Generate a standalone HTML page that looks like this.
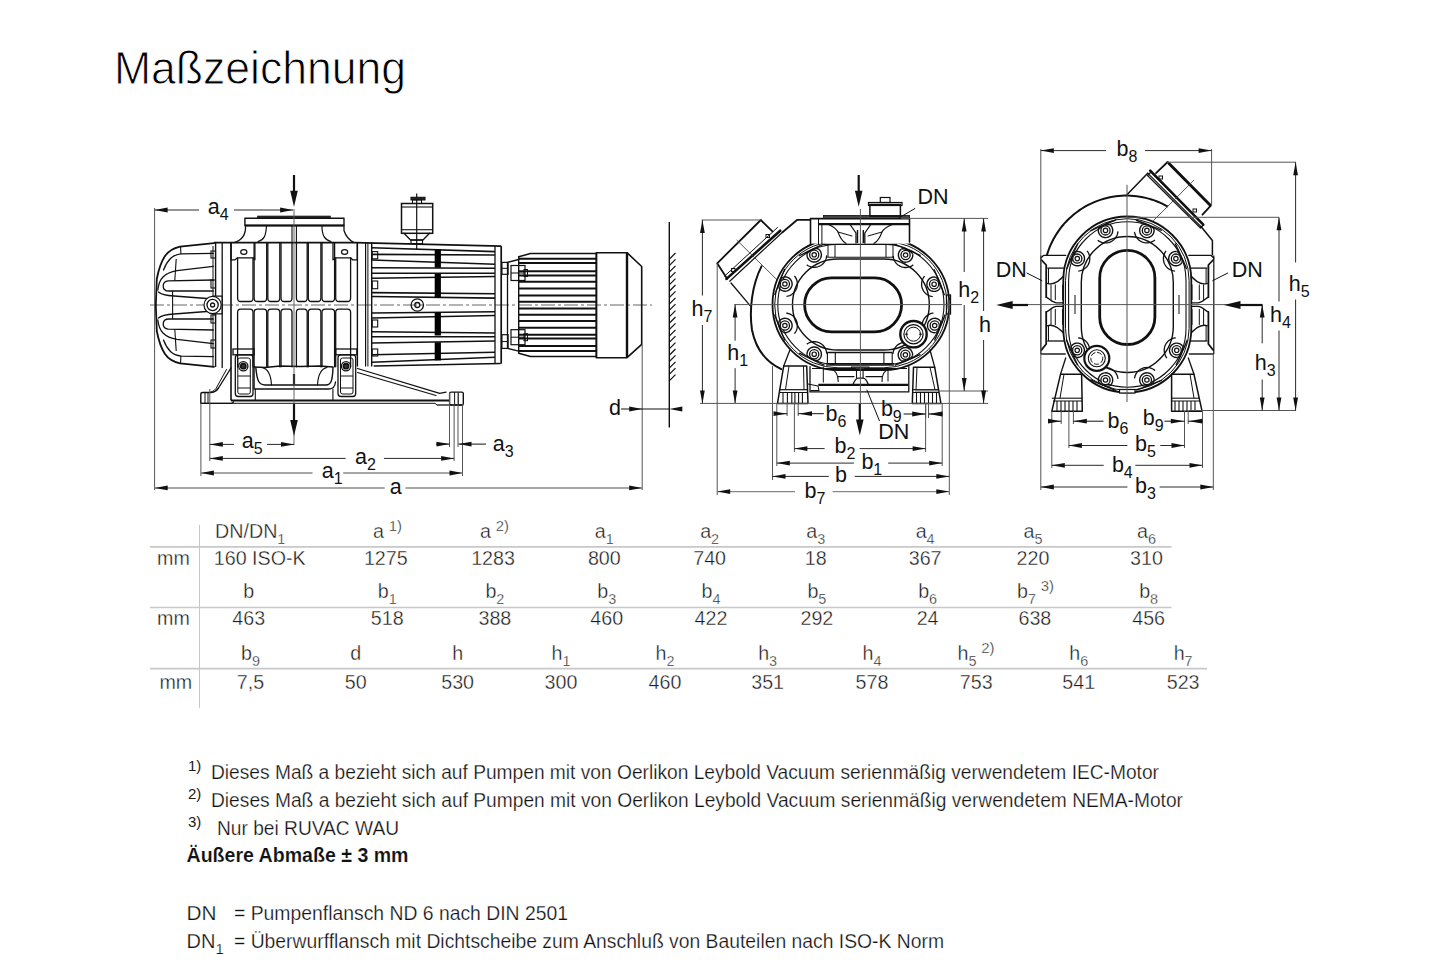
<!DOCTYPE html><html><head><meta charset="utf-8"><style>html,body{margin:0;padding:0;background:#fff;}svg{display:block;}</style></head><body>
<svg width="1445" height="964" viewBox="0 0 1445 964" font-family='"Liberation Sans", sans-serif'>
<rect width="1445" height="964" fill="#fff"/>
<text x="114" y="83.6" font-size="46" fill="#000" stroke="#fff" stroke-width="0.9" textLength="292" lengthAdjust="spacingAndGlyphs">Maßzeichnung</text>
<line x1="199.5" y1="525" x2="199.5" y2="708" stroke="#c8c8c8" stroke-width="1" />
<line x1="150" y1="546.9" x2="1171.5" y2="546.9" stroke="#c8c8c8" stroke-width="1.6" />
<line x1="150" y1="607.5" x2="1171.5" y2="607.5" stroke="#c8c8c8" stroke-width="1.6" />
<line x1="150" y1="668.6" x2="1207" y2="668.6" stroke="#c8c8c8" stroke-width="1.6" />
<g transform="translate(157,565) scale(0.96,1)"><text x="0" y="0" font-size="20.5" text-anchor="start" fill="#1a1a1a" stroke="#fff" stroke-width="0.35"><tspan>mm</tspan></text></g>
<g transform="translate(157,625) scale(0.96,1)"><text x="0" y="0" font-size="20.5" text-anchor="start" fill="#1a1a1a" stroke="#fff" stroke-width="0.35"><tspan>mm</tspan></text></g>
<g transform="translate(159.4,688.6) scale(0.96,1)"><text x="0" y="0" font-size="20.5" text-anchor="start" fill="#1a1a1a" stroke="#fff" stroke-width="0.35"><tspan>mm</tspan></text></g>
<g transform="translate(215.1,537.8) scale(0.96,1)"><text x="0" y="0" font-size="20.5" text-anchor="start" fill="#1a1a1a" stroke="#fff" stroke-width="0.35"><tspan>DN/DN</tspan><tspan font-size="15" dy="6">1</tspan></text></g>
<g transform="translate(213.8,564.9) scale(0.96,1)"><text x="0" y="0" font-size="20.5" text-anchor="start" fill="#1a1a1a" stroke="#fff" stroke-width="0.35"><tspan>160 ISO-K</tspan></text></g>
<g transform="translate(387.5,537.8) scale(0.96,1)"><text x="0" y="0" font-size="20.5" text-anchor="middle" fill="#1a1a1a" stroke="#fff" stroke-width="0.35"><tspan>a</tspan><tspan font-size="15.5" dx="5" dy="-7">1)</tspan></text></g>
<g transform="translate(385.8,564.9) scale(0.96,1)"><text x="0" y="0" font-size="20.5" text-anchor="middle" fill="#1a1a1a" stroke="#fff" stroke-width="0.35"><tspan>1275</tspan></text></g>
<g transform="translate(494.5,537.8) scale(0.96,1)"><text x="0" y="0" font-size="20.5" text-anchor="middle" fill="#1a1a1a" stroke="#fff" stroke-width="0.35"><tspan>a</tspan><tspan font-size="15.5" dx="5" dy="-7">2)</tspan></text></g>
<g transform="translate(493,564.9) scale(0.96,1)"><text x="0" y="0" font-size="20.5" text-anchor="middle" fill="#1a1a1a" stroke="#fff" stroke-width="0.35"><tspan>1283</tspan></text></g>
<g transform="translate(604.3,537.8) scale(0.96,1)"><text x="0" y="0" font-size="20.5" text-anchor="middle" fill="#1a1a1a" stroke="#fff" stroke-width="0.35"><tspan>a</tspan><tspan font-size="15" dy="6">1</tspan></text></g>
<g transform="translate(604.3,564.9) scale(0.96,1)"><text x="0" y="0" font-size="20.5" text-anchor="middle" fill="#1a1a1a" stroke="#fff" stroke-width="0.35"><tspan>800</tspan></text></g>
<g transform="translate(709.6,537.8) scale(0.96,1)"><text x="0" y="0" font-size="20.5" text-anchor="middle" fill="#1a1a1a" stroke="#fff" stroke-width="0.35"><tspan>a</tspan><tspan font-size="15" dy="6">2</tspan></text></g>
<g transform="translate(709.6,564.9) scale(0.96,1)"><text x="0" y="0" font-size="20.5" text-anchor="middle" fill="#1a1a1a" stroke="#fff" stroke-width="0.35"><tspan>740</tspan></text></g>
<g transform="translate(815.7,537.8) scale(0.96,1)"><text x="0" y="0" font-size="20.5" text-anchor="middle" fill="#1a1a1a" stroke="#fff" stroke-width="0.35"><tspan>a</tspan><tspan font-size="15" dy="6">3</tspan></text></g>
<g transform="translate(815.7,564.9) scale(0.96,1)"><text x="0" y="0" font-size="20.5" text-anchor="middle" fill="#1a1a1a" stroke="#fff" stroke-width="0.35"><tspan>18</tspan></text></g>
<g transform="translate(925.1,537.8) scale(0.96,1)"><text x="0" y="0" font-size="20.5" text-anchor="middle" fill="#1a1a1a" stroke="#fff" stroke-width="0.35"><tspan>a</tspan><tspan font-size="15" dy="6">4</tspan></text></g>
<g transform="translate(925.1,564.9) scale(0.96,1)"><text x="0" y="0" font-size="20.5" text-anchor="middle" fill="#1a1a1a" stroke="#fff" stroke-width="0.35"><tspan>367</tspan></text></g>
<g transform="translate(1033,537.8) scale(0.96,1)"><text x="0" y="0" font-size="20.5" text-anchor="middle" fill="#1a1a1a" stroke="#fff" stroke-width="0.35"><tspan>a</tspan><tspan font-size="15" dy="6">5</tspan></text></g>
<g transform="translate(1033,564.9) scale(0.96,1)"><text x="0" y="0" font-size="20.5" text-anchor="middle" fill="#1a1a1a" stroke="#fff" stroke-width="0.35"><tspan>220</tspan></text></g>
<g transform="translate(1146.5,537.8) scale(0.96,1)"><text x="0" y="0" font-size="20.5" text-anchor="middle" fill="#1a1a1a" stroke="#fff" stroke-width="0.35"><tspan>a</tspan><tspan font-size="15" dy="6">6</tspan></text></g>
<g transform="translate(1146.5,564.9) scale(0.96,1)"><text x="0" y="0" font-size="20.5" text-anchor="middle" fill="#1a1a1a" stroke="#fff" stroke-width="0.35"><tspan>310</tspan></text></g>
<g transform="translate(248.7,597.9) scale(0.96,1)"><text x="0" y="0" font-size="20.5" text-anchor="middle" fill="#1a1a1a" stroke="#fff" stroke-width="0.35"><tspan>b</tspan></text></g>
<g transform="translate(248.7,624.8) scale(0.96,1)"><text x="0" y="0" font-size="20.5" text-anchor="middle" fill="#1a1a1a" stroke="#fff" stroke-width="0.35"><tspan>463</tspan></text></g>
<g transform="translate(387.2,597.9) scale(0.96,1)"><text x="0" y="0" font-size="20.5" text-anchor="middle" fill="#1a1a1a" stroke="#fff" stroke-width="0.35"><tspan>b</tspan><tspan font-size="15" dy="6">1</tspan></text></g>
<g transform="translate(387.2,624.8) scale(0.96,1)"><text x="0" y="0" font-size="20.5" text-anchor="middle" fill="#1a1a1a" stroke="#fff" stroke-width="0.35"><tspan>518</tspan></text></g>
<g transform="translate(494.9,597.9) scale(0.96,1)"><text x="0" y="0" font-size="20.5" text-anchor="middle" fill="#1a1a1a" stroke="#fff" stroke-width="0.35"><tspan>b</tspan><tspan font-size="15" dy="6">2</tspan></text></g>
<g transform="translate(494.9,624.8) scale(0.96,1)"><text x="0" y="0" font-size="20.5" text-anchor="middle" fill="#1a1a1a" stroke="#fff" stroke-width="0.35"><tspan>388</tspan></text></g>
<g transform="translate(606.7,597.9) scale(0.96,1)"><text x="0" y="0" font-size="20.5" text-anchor="middle" fill="#1a1a1a" stroke="#fff" stroke-width="0.35"><tspan>b</tspan><tspan font-size="15" dy="6">3</tspan></text></g>
<g transform="translate(606.7,624.8) scale(0.96,1)"><text x="0" y="0" font-size="20.5" text-anchor="middle" fill="#1a1a1a" stroke="#fff" stroke-width="0.35"><tspan>460</tspan></text></g>
<g transform="translate(711,597.9) scale(0.96,1)"><text x="0" y="0" font-size="20.5" text-anchor="middle" fill="#1a1a1a" stroke="#fff" stroke-width="0.35"><tspan>b</tspan><tspan font-size="15" dy="6">4</tspan></text></g>
<g transform="translate(711,624.8) scale(0.96,1)"><text x="0" y="0" font-size="20.5" text-anchor="middle" fill="#1a1a1a" stroke="#fff" stroke-width="0.35"><tspan>422</tspan></text></g>
<g transform="translate(816.9,597.9) scale(0.96,1)"><text x="0" y="0" font-size="20.5" text-anchor="middle" fill="#1a1a1a" stroke="#fff" stroke-width="0.35"><tspan>b</tspan><tspan font-size="15" dy="6">5</tspan></text></g>
<g transform="translate(816.9,624.8) scale(0.96,1)"><text x="0" y="0" font-size="20.5" text-anchor="middle" fill="#1a1a1a" stroke="#fff" stroke-width="0.35"><tspan>292</tspan></text></g>
<g transform="translate(927.6,597.9) scale(0.96,1)"><text x="0" y="0" font-size="20.5" text-anchor="middle" fill="#1a1a1a" stroke="#fff" stroke-width="0.35"><tspan>b</tspan><tspan font-size="15" dy="6">6</tspan></text></g>
<g transform="translate(927.6,624.8) scale(0.96,1)"><text x="0" y="0" font-size="20.5" text-anchor="middle" fill="#1a1a1a" stroke="#fff" stroke-width="0.35"><tspan>24</tspan></text></g>
<g transform="translate(1035.6,597.9) scale(0.96,1)"><text x="0" y="0" font-size="20.5" text-anchor="middle" fill="#1a1a1a" stroke="#fff" stroke-width="0.35"><tspan>b</tspan><tspan font-size="15" dy="6">7</tspan><tspan font-size="15.5" dx="5" dy="-13">3)</tspan></text></g>
<g transform="translate(1034.9,624.8) scale(0.96,1)"><text x="0" y="0" font-size="20.5" text-anchor="middle" fill="#1a1a1a" stroke="#fff" stroke-width="0.35"><tspan>638</tspan></text></g>
<g transform="translate(1148.6,597.9) scale(0.96,1)"><text x="0" y="0" font-size="20.5" text-anchor="middle" fill="#1a1a1a" stroke="#fff" stroke-width="0.35"><tspan>b</tspan><tspan font-size="15" dy="6">8</tspan></text></g>
<g transform="translate(1148.6,624.8) scale(0.96,1)"><text x="0" y="0" font-size="20.5" text-anchor="middle" fill="#1a1a1a" stroke="#fff" stroke-width="0.35"><tspan>456</tspan></text></g>
<g transform="translate(250.5,659.9) scale(0.96,1)"><text x="0" y="0" font-size="20.5" text-anchor="middle" fill="#1a1a1a" stroke="#fff" stroke-width="0.35"><tspan>b</tspan><tspan font-size="15" dy="6">9</tspan></text></g>
<g transform="translate(250.5,688.6) scale(0.96,1)"><text x="0" y="0" font-size="20.5" text-anchor="middle" fill="#1a1a1a" stroke="#fff" stroke-width="0.35"><tspan>7,5</tspan></text></g>
<g transform="translate(355.8,659.9) scale(0.96,1)"><text x="0" y="0" font-size="20.5" text-anchor="middle" fill="#1a1a1a" stroke="#fff" stroke-width="0.35"><tspan>d</tspan></text></g>
<g transform="translate(355.8,688.6) scale(0.96,1)"><text x="0" y="0" font-size="20.5" text-anchor="middle" fill="#1a1a1a" stroke="#fff" stroke-width="0.35"><tspan>50</tspan></text></g>
<g transform="translate(457.6,659.9) scale(0.96,1)"><text x="0" y="0" font-size="20.5" text-anchor="middle" fill="#1a1a1a" stroke="#fff" stroke-width="0.35"><tspan>h</tspan></text></g>
<g transform="translate(457.6,688.6) scale(0.96,1)"><text x="0" y="0" font-size="20.5" text-anchor="middle" fill="#1a1a1a" stroke="#fff" stroke-width="0.35"><tspan>530</tspan></text></g>
<g transform="translate(561,659.9) scale(0.96,1)"><text x="0" y="0" font-size="20.5" text-anchor="middle" fill="#1a1a1a" stroke="#fff" stroke-width="0.35"><tspan>h</tspan><tspan font-size="15" dy="6">1</tspan></text></g>
<g transform="translate(561,688.6) scale(0.96,1)"><text x="0" y="0" font-size="20.5" text-anchor="middle" fill="#1a1a1a" stroke="#fff" stroke-width="0.35"><tspan>300</tspan></text></g>
<g transform="translate(665,659.9) scale(0.96,1)"><text x="0" y="0" font-size="20.5" text-anchor="middle" fill="#1a1a1a" stroke="#fff" stroke-width="0.35"><tspan>h</tspan><tspan font-size="15" dy="6">2</tspan></text></g>
<g transform="translate(665,688.6) scale(0.96,1)"><text x="0" y="0" font-size="20.5" text-anchor="middle" fill="#1a1a1a" stroke="#fff" stroke-width="0.35"><tspan>460</tspan></text></g>
<g transform="translate(767.6,659.9) scale(0.96,1)"><text x="0" y="0" font-size="20.5" text-anchor="middle" fill="#1a1a1a" stroke="#fff" stroke-width="0.35"><tspan>h</tspan><tspan font-size="15" dy="6">3</tspan></text></g>
<g transform="translate(767.6,688.6) scale(0.96,1)"><text x="0" y="0" font-size="20.5" text-anchor="middle" fill="#1a1a1a" stroke="#fff" stroke-width="0.35"><tspan>351</tspan></text></g>
<g transform="translate(872,659.9) scale(0.96,1)"><text x="0" y="0" font-size="20.5" text-anchor="middle" fill="#1a1a1a" stroke="#fff" stroke-width="0.35"><tspan>h</tspan><tspan font-size="15" dy="6">4</tspan></text></g>
<g transform="translate(872,688.6) scale(0.96,1)"><text x="0" y="0" font-size="20.5" text-anchor="middle" fill="#1a1a1a" stroke="#fff" stroke-width="0.35"><tspan>578</tspan></text></g>
<g transform="translate(976,659.9) scale(0.96,1)"><text x="0" y="0" font-size="20.5" text-anchor="middle" fill="#1a1a1a" stroke="#fff" stroke-width="0.35"><tspan>h</tspan><tspan font-size="15" dy="6">5</tspan><tspan font-size="15.5" dx="5" dy="-13">2)</tspan></text></g>
<g transform="translate(976.2,688.6) scale(0.96,1)"><text x="0" y="0" font-size="20.5" text-anchor="middle" fill="#1a1a1a" stroke="#fff" stroke-width="0.35"><tspan>753</tspan></text></g>
<g transform="translate(1078.7,659.9) scale(0.96,1)"><text x="0" y="0" font-size="20.5" text-anchor="middle" fill="#1a1a1a" stroke="#fff" stroke-width="0.35"><tspan>h</tspan><tspan font-size="15" dy="6">6</tspan></text></g>
<g transform="translate(1078.7,688.6) scale(0.96,1)"><text x="0" y="0" font-size="20.5" text-anchor="middle" fill="#1a1a1a" stroke="#fff" stroke-width="0.35"><tspan>541</tspan></text></g>
<g transform="translate(1183.1,659.9) scale(0.96,1)"><text x="0" y="0" font-size="20.5" text-anchor="middle" fill="#1a1a1a" stroke="#fff" stroke-width="0.35"><tspan>h</tspan><tspan font-size="15" dy="6">7</tspan></text></g>
<g transform="translate(1183.1,688.6) scale(0.96,1)"><text x="0" y="0" font-size="20.5" text-anchor="middle" fill="#1a1a1a" stroke="#fff" stroke-width="0.35"><tspan>523</tspan></text></g>
<text x="188" y="771" font-size="15" text-anchor="start" font-weight="normal" fill="#1a1a1a" >1)</text>
<text x="211" y="778.7" font-size="20" font-weight="normal" fill="#111" stroke="#fff" stroke-width="0.25" textLength="948" lengthAdjust="spacingAndGlyphs">Dieses Maß a bezieht sich auf Pumpen mit von Oerlikon Leybold Vacuum serienmäßig verwendetem IEC-Motor</text>
<text x="188" y="799" font-size="15" text-anchor="start" font-weight="normal" fill="#1a1a1a" >2)</text>
<text x="211" y="806.6" font-size="20" font-weight="normal" fill="#111" stroke="#fff" stroke-width="0.25" textLength="972" lengthAdjust="spacingAndGlyphs">Dieses Maß a bezieht sich auf Pumpen mit von Oerlikon Leybold Vacuum serienmäßig verwendetem NEMA-Motor</text>
<text x="188" y="827" font-size="15" text-anchor="start" font-weight="normal" fill="#1a1a1a" >3)</text>
<text x="217" y="834.5" font-size="20" font-weight="normal" fill="#111" stroke="#fff" stroke-width="0.25" textLength="182" lengthAdjust="spacingAndGlyphs">Nur bei RUVAC WAU</text>
<text x="186.5" y="862.2" font-size="20" font-weight="bold" fill="#111" stroke="#fff" stroke-width="0.15" textLength="222" lengthAdjust="spacingAndGlyphs">Äußere Abmaße ± 3 mm</text>
<text x="186.5" y="919.8" font-size="20" font-weight="normal" fill="#111" stroke="#fff" stroke-width="0.25" textLength="30" lengthAdjust="spacingAndGlyphs">DN</text>
<text x="234" y="919.8" font-size="20" font-weight="normal" fill="#111" stroke="#fff" stroke-width="0.25" textLength="334" lengthAdjust="spacingAndGlyphs">= Pumpenflansch ND 6 nach DIN 2501</text>
<text x="186.5" y="947.5" font-size="20" fill="#111" stroke="#fff" stroke-width="0.25">DN<tspan font-size="15" dy="6">1</tspan></text>
<text x="234" y="947.5" font-size="20" font-weight="normal" fill="#111" stroke="#fff" stroke-width="0.25" textLength="710" lengthAdjust="spacingAndGlyphs">= Überwurfflansch mit Dichtscheibe zum Anschluß von Bauteilen nach ISO-K Norm</text>
<line x1="150.00" y1="305.00" x2="652.00" y2="305.00" stroke="#666" stroke-width="1.0" stroke-dasharray="14,3,3,3"/>
<path d="M214,243.2 L180,246.6 C172,248.5 168,251.5 165,256 C161,262 158.5,270 156.8,279 L155.8,305" stroke="#111" stroke-width="1.8" fill="none" stroke-linejoin="round" stroke-linecap="round" />
<path d="M213.3,253.3 L181.3,253.9 C176,254.5 173,256 170.5,258.5 C167,262 165,266 163.5,270" stroke="#111" stroke-width="1.3" fill="none" stroke-linejoin="round" stroke-linecap="round" />
<path d="M213.3,266.3 L177,270.6 C170,271.8 166,274 163,277 C160,280 158.5,284 157.8,290" stroke="#111" stroke-width="1.3" fill="none" stroke-linejoin="round" stroke-linecap="round" />
<path d="M213.3,280 L168.3,280.8 C164.5,281.2 163.2,283.5 163.2,285.9 C163.2,289 165.5,291 169,291 L213.3,291" stroke="#111" stroke-width="1.3" fill="none" stroke-linejoin="round" stroke-linecap="round" />
<path d="M213.3,299 L174.1,296 C166,295.5 161,294.5 158.5,292" stroke="#111" stroke-width="1.3" fill="none" stroke-linejoin="round" stroke-linecap="round" />
<line x1="180.60" y1="246.80" x2="180.90" y2="253.90" stroke="#111" stroke-width="1.1" />
<line x1="176.20" y1="259.00" x2="174.80" y2="280.60" stroke="#111" stroke-width="1.1" />
<g transform="matrix(1,0,0,-1,0,610)">
<path d="M214,243.2 L180,246.6 C172,248.5 168,251.5 165,256 C161,262 158.5,270 156.8,279 L155.8,305" stroke="#111" stroke-width="1.8" fill="none" stroke-linejoin="round" stroke-linecap="round" />
<path d="M213.3,253.3 L181.3,253.9 C176,254.5 173,256 170.5,258.5 C167,262 165,266 163.5,270" stroke="#111" stroke-width="1.3" fill="none" stroke-linejoin="round" stroke-linecap="round" />
<path d="M213.3,266.3 L177,270.6 C170,271.8 166,274 163,277 C160,280 158.5,284 157.8,290" stroke="#111" stroke-width="1.3" fill="none" stroke-linejoin="round" stroke-linecap="round" />
<path d="M213.3,280 L168.3,280.8 C164.5,281.2 163.2,283.5 163.2,285.9 C163.2,289 165.5,291 169,291 L213.3,291" stroke="#111" stroke-width="1.3" fill="none" stroke-linejoin="round" stroke-linecap="round" />
<path d="M213.3,299 L174.1,296 C166,295.5 161,294.5 158.5,292" stroke="#111" stroke-width="1.3" fill="none" stroke-linejoin="round" stroke-linecap="round" />
<line x1="180.60" y1="246.80" x2="180.90" y2="253.90" stroke="#111" stroke-width="1.1" />
<line x1="176.20" y1="259.00" x2="174.80" y2="280.60" stroke="#111" stroke-width="1.1" />
</g>
<line x1="172.60" y1="291.00" x2="172.60" y2="319.00" stroke="#111" stroke-width="1.1" />
<line x1="215.60" y1="243.00" x2="215.60" y2="367.00" stroke="#111" stroke-width="1.4" />
<line x1="213.00" y1="246.00" x2="213.00" y2="366.00" stroke="#111" stroke-width="1.0" />
<line x1="222.20" y1="243.00" x2="222.20" y2="368.00" stroke="#111" stroke-width="1.3" />
<line x1="231.00" y1="242.60" x2="231.00" y2="400.50" stroke="#111" stroke-width="1.6" />
<rect x="211.00" y="251.00" width="4.50" height="7.00" rx="0" stroke="#111" stroke-width="1.1" fill="none"/>
<rect x="211.00" y="280.00" width="4.50" height="8.00" rx="0" stroke="#111" stroke-width="1.1" fill="none"/>
<rect x="211.00" y="315.00" width="4.50" height="8.00" rx="0" stroke="#111" stroke-width="1.1" fill="none"/>
<rect x="211.00" y="340.00" width="4.50" height="8.00" rx="0" stroke="#111" stroke-width="1.1" fill="none"/>
<path d="M213,296.2 L222,296.2 L222,313.8 L213,313.8" stroke="#111" stroke-width="1.2" fill="#fff" stroke-linejoin="round" stroke-linecap="round" />
<circle cx="212.60" cy="305.00" r="8.60" stroke="#111" stroke-width="1.2" fill="#fff"/>
<circle cx="212.60" cy="305.00" r="5.60" stroke="#111" stroke-width="1.3" fill="none"/>
<circle cx="212.60" cy="305.00" r="2.00" stroke="#111" stroke-width="1.3" fill="none"/>
<line x1="214.00" y1="242.60" x2="355.00" y2="242.60" stroke="#111" stroke-width="1.7" />
<path d="M231,242.6 L231,259.8 M231,259.8 L235,259.8 L237.6,257.8 L253,257.8 L254.9,259.8 L254.9,242.6" stroke="#111" stroke-width="1.3" fill="none" stroke-linejoin="round" stroke-linecap="round" />
<ellipse cx="243.80" cy="252.00" rx="3.10" ry="2.30" stroke="#111" stroke-width="1.2" fill="none"/>
<path d="M357.3,242.6 L357.3,259.8 L352.6,259.8 L350.6,257.8 L335.7,257.8 L333,259.8 L333,242.6" stroke="#111" stroke-width="1.3" fill="none" stroke-linejoin="round" stroke-linecap="round" />
<ellipse cx="344.60" cy="252.00" rx="3.10" ry="2.30" stroke="#111" stroke-width="1.2" fill="none"/>
<path d="M237.6,257.8 L237.6,298 Q237.6,301.5 240.6,301.5 L250,301.5 Q253,301.5 253,298 L253,257.8" stroke="#111" stroke-width="1.3" fill="none" stroke-linejoin="round" stroke-linecap="round" />
<path d="M237.6,366.8 L237.6,312.5 Q237.6,309.1 240.6,309.1 L250,309.1 Q253,309.1 253,312.5 L253,366.8" stroke="#111" stroke-width="1.3" fill="none" stroke-linejoin="round" stroke-linecap="round" />
<path d="M254.1,243 L254.1,298 Q254.1,301.5 257.1,301.5 L263.7,301.5 Q266.7,301.5 266.7,298 L266.7,243" stroke="#111" stroke-width="1.3" fill="none" stroke-linejoin="round" stroke-linecap="round" />
<path d="M254.1,366.8 L254.1,312.5 Q254.1,309.1 257.1,309.1 L263.7,309.1 Q266.7,309.1 266.7,312.5 L266.7,366.8" stroke="#111" stroke-width="1.3" fill="none" stroke-linejoin="round" stroke-linecap="round" />
<path d="M267.8,243 L267.8,298 Q267.8,301.5 270.8,301.5 L276.8,301.5 Q279.8,301.5 279.8,298 L279.8,243" stroke="#111" stroke-width="1.3" fill="none" stroke-linejoin="round" stroke-linecap="round" />
<path d="M267.8,366.8 L267.8,312.5 Q267.8,309.1 270.8,309.1 L276.8,309.1 Q279.8,309.1 279.8,312.5 L279.8,366.8" stroke="#111" stroke-width="1.3" fill="none" stroke-linejoin="round" stroke-linecap="round" />
<path d="M281,243 L281,298 Q281,301.5 284,301.5 L289,301.5 Q292,301.5 292,298 L292,243" stroke="#111" stroke-width="1.3" fill="none" stroke-linejoin="round" stroke-linecap="round" />
<path d="M281,366.8 L281,312.5 Q281,309.1 284,309.1 L289,309.1 Q292,309.1 292,312.5 L292,366.8" stroke="#111" stroke-width="1.3" fill="none" stroke-linejoin="round" stroke-linecap="round" />
<path d="M296.4,243 L296.4,298 Q296.4,301.5 299.4,301.5 L304.2,301.5 Q307.2,301.5 307.2,298 L307.2,243" stroke="#111" stroke-width="1.3" fill="none" stroke-linejoin="round" stroke-linecap="round" />
<path d="M296.4,366.8 L296.4,312.5 Q296.4,309.1 299.4,309.1 L304.2,309.1 Q307.2,309.1 307.2,312.5 L307.2,366.8" stroke="#111" stroke-width="1.3" fill="none" stroke-linejoin="round" stroke-linecap="round" />
<path d="M308.3,243 L308.3,298 Q308.3,301.5 311.3,301.5 L317.9,301.5 Q320.9,301.5 320.9,298 L320.9,243" stroke="#111" stroke-width="1.3" fill="none" stroke-linejoin="round" stroke-linecap="round" />
<path d="M308.3,366.8 L308.3,312.5 Q308.3,309.1 311.3,309.1 L317.9,309.1 Q320.9,309.1 320.9,312.5 L320.9,366.8" stroke="#111" stroke-width="1.3" fill="none" stroke-linejoin="round" stroke-linecap="round" />
<path d="M322,243 L322,298 Q322,301.5 325,301.5 L331.6,301.5 Q334.6,301.5 334.6,298 L334.6,243" stroke="#111" stroke-width="1.3" fill="none" stroke-linejoin="round" stroke-linecap="round" />
<path d="M322,366.8 L322,312.5 Q322,309.1 325,309.1 L331.6,309.1 Q334.6,309.1 334.6,312.5 L334.6,366.8" stroke="#111" stroke-width="1.3" fill="none" stroke-linejoin="round" stroke-linecap="round" />
<path d="M335.7,257.8 L335.7,298 Q335.7,301.5 338.7,301.5 L347.6,301.5 Q350.6,301.5 350.6,298 L350.6,257.8" stroke="#111" stroke-width="1.3" fill="none" stroke-linejoin="round" stroke-linecap="round" />
<path d="M335.7,366.8 L335.7,312.5 Q335.7,309.1 338.7,309.1 L347.6,309.1 Q350.6,309.1 350.6,312.5 L350.6,366.8" stroke="#111" stroke-width="1.3" fill="none" stroke-linejoin="round" stroke-linecap="round" />
<rect x="257.70" y="216.20" width="72.50" height="2.20" rx="0" stroke="#111" stroke-width="1.0" fill="#333"/>
<path d="M244.9,225.5 L244.9,218.3 L344,218.3 L344,225.5 Z" stroke="#111" stroke-width="1.4" fill="none" stroke-linejoin="round" stroke-linecap="round" />
<line x1="244.90" y1="225.50" x2="344.00" y2="225.50" stroke="#111" stroke-width="2.2" />
<path d="M245.5,225.5 C246,234 243,240 233.9,242.6" stroke="#111" stroke-width="1.3" fill="none" stroke-linejoin="round" stroke-linecap="round" />
<path d="M266.5,225.5 C266,236 264,240 258,241.5" stroke="#111" stroke-width="1.2" fill="none" stroke-linejoin="round" stroke-linecap="round" />
<path d="M321.9,225.5 C322,236 325,240 331,241.5" stroke="#111" stroke-width="1.2" fill="none" stroke-linejoin="round" stroke-linecap="round" />
<path d="M344,225.5 L344,230.5 C346,237 349,240 354,242.6" stroke="#111" stroke-width="1.3" fill="none" stroke-linejoin="round" stroke-linecap="round" />
<line x1="292.00" y1="225.50" x2="292.00" y2="242.60" stroke="#111" stroke-width="1.1" />
<line x1="296.40" y1="225.50" x2="296.40" y2="242.60" stroke="#111" stroke-width="1.1" />
<line x1="357.40" y1="242.60" x2="357.40" y2="366.50" stroke="#111" stroke-width="1.4" />
<line x1="365.60" y1="242.60" x2="365.60" y2="366.50" stroke="#111" stroke-width="1.2" />
<line x1="367.90" y1="242.60" x2="367.90" y2="366.50" stroke="#111" stroke-width="1.0" />
<line x1="371.70" y1="242.60" x2="371.70" y2="366.50" stroke="#111" stroke-width="1.4" />
<rect x="233.00" y="349.00" width="21.10" height="5.80" rx="0" stroke="#111" stroke-width="1.3" fill="none"/>
<rect x="235.30" y="354.80" width="17.70" height="41.70" rx="3" stroke="#111" stroke-width="1.3" fill="none"/>
<rect x="237.80" y="358.00" width="12.50" height="36.00" rx="2" stroke="#111" stroke-width="1.0" fill="none"/>
<circle cx="243.30" cy="366.20" r="4.60" stroke="#111" stroke-width="1.3" fill="none"/>
<circle cx="243.30" cy="366.20" r="2.60" stroke="#111" stroke-width="1.6" fill="#333"/>
<line x1="237.80" y1="376.00" x2="250.30" y2="376.00" stroke="#111" stroke-width="1.0" />
<line x1="237.80" y1="388.00" x2="250.30" y2="388.00" stroke="#111" stroke-width="1.0" />
<rect x="335.70" y="349.00" width="21.10" height="5.80" rx="0" stroke="#111" stroke-width="1.3" fill="none"/>
<rect x="338.00" y="354.80" width="17.70" height="41.70" rx="3" stroke="#111" stroke-width="1.3" fill="none"/>
<rect x="340.50" y="358.00" width="12.50" height="36.00" rx="2" stroke="#111" stroke-width="1.0" fill="none"/>
<circle cx="346.00" cy="366.20" r="4.60" stroke="#111" stroke-width="1.3" fill="none"/>
<circle cx="346.00" cy="366.20" r="2.60" stroke="#111" stroke-width="1.6" fill="#333"/>
<line x1="340.50" y1="376.00" x2="353.00" y2="376.00" stroke="#111" stroke-width="1.0" />
<line x1="340.50" y1="388.00" x2="353.00" y2="388.00" stroke="#111" stroke-width="1.0" />
<path d="M254.1,367 L265,367.5 L280,366 L300,366.5 L320,366 L333,367" stroke="#111" stroke-width="1.3" fill="none" stroke-linejoin="round" stroke-linecap="round" />
<path d="M255.8,367.4 C257,381 259,385 265,385 L326,385 C331,385 332.5,381 333,367.4" stroke="#111" stroke-width="1.4" fill="none" stroke-linejoin="round" stroke-linecap="round" />
<path d="M254.1,367 L254.1,389 L329,389 C333,389 335,387 335.5,382" stroke="#111" stroke-width="1.3" fill="none" stroke-linejoin="round" stroke-linecap="round" />
<path d="M262,367.4 C269,369 271,376 271.5,385" stroke="#111" stroke-width="1.1" fill="none" stroke-linejoin="round" stroke-linecap="round" />
<path d="M327,367.4 C320,369 318,376 317.5,385" stroke="#111" stroke-width="1.1" fill="none" stroke-linejoin="round" stroke-linecap="round" />
<line x1="294.00" y1="374.00" x2="294.00" y2="385.00" stroke="#111" stroke-width="2.2" />
<line x1="255.30" y1="389.00" x2="255.30" y2="400.50" stroke="#111" stroke-width="1.1" />
<line x1="332.90" y1="389.00" x2="332.90" y2="400.50" stroke="#111" stroke-width="1.1" />
<path d="M200.8,403.3 L200.8,394 Q200.8,392.5 202.5,392.5 L210.5,392.5 C214,392.5 216.5,391 218.5,388 L231,368" stroke="#111" stroke-width="1.4" fill="none" stroke-linejoin="round" stroke-linecap="round" />
<path d="M226.5,369.5 L216,388.5 C214,391 212,392 209.5,392.5" stroke="#111" stroke-width="1.0" fill="none" stroke-linejoin="round" stroke-linecap="round" />
<line x1="200.80" y1="403.30" x2="232.00" y2="403.30" stroke="#111" stroke-width="1.4" />
<line x1="232.00" y1="403.30" x2="234.00" y2="401.50" stroke="#111" stroke-width="1.2" />
<line x1="231.00" y1="400.50" x2="450.00" y2="400.50" stroke="#111" stroke-width="1.8" />
<line x1="232.00" y1="403.30" x2="435.00" y2="403.30" stroke="#111" stroke-width="1.0" />
<line x1="435.00" y1="403.30" x2="437.00" y2="405.00" stroke="#111" stroke-width="1.0" />
<line x1="437.00" y1="405.00" x2="463.30" y2="405.00" stroke="#111" stroke-width="1.3" />
<line x1="205.00" y1="392.50" x2="205.00" y2="403.30" stroke="#111" stroke-width="1.0" />
<line x1="208.00" y1="392.50" x2="208.00" y2="403.30" stroke="#111" stroke-width="1.0" />
<rect x="449.60" y="392.10" width="13.70" height="12.90" rx="1.5" stroke="#111" stroke-width="1.4" fill="none"/>
<line x1="454.60" y1="392.10" x2="454.60" y2="405.00" stroke="#111" stroke-width="1.0" />
<line x1="458.40" y1="392.10" x2="458.40" y2="405.00" stroke="#111" stroke-width="1.0" />
<path d="M357.5,368.5 L439.7,393.4 L446,392.1" stroke="#111" stroke-width="1.3" fill="none" stroke-linejoin="round" stroke-linecap="round" />
<path d="M357.5,372.5 L436,395.5" stroke="#111" stroke-width="1.2" fill="none" stroke-linejoin="round" stroke-linecap="round" />
<line x1="355.00" y1="242.60" x2="501.20" y2="246.10" stroke="#111" stroke-width="1.7" />
<line x1="373.70" y1="366.00" x2="500.70" y2="363.50" stroke="#111" stroke-width="1.7" />
<line x1="495.00" y1="246.10" x2="495.00" y2="363.50" stroke="#111" stroke-width="1.3" />
<line x1="501.20" y1="246.10" x2="501.20" y2="363.70" stroke="#111" stroke-width="1.7" />
<line x1="372.00" y1="247.70" x2="495.00" y2="251.60" stroke="#111" stroke-width="1.6" />
<line x1="372.00" y1="254.40" x2="495.00" y2="255.00" stroke="#111" stroke-width="1.6" />
<line x1="372.00" y1="260.00" x2="495.00" y2="264.30" stroke="#111" stroke-width="1.6" />
<line x1="372.00" y1="267.70" x2="495.00" y2="268.20" stroke="#111" stroke-width="1.6" />
<line x1="372.00" y1="273.20" x2="495.00" y2="273.20" stroke="#111" stroke-width="1.6" />
<line x1="372.00" y1="278.20" x2="495.00" y2="276.50" stroke="#111" stroke-width="1.6" />
<line x1="372.00" y1="292.60" x2="495.00" y2="293.70" stroke="#111" stroke-width="1.6" />
<line x1="372.00" y1="296.50" x2="495.00" y2="298.10" stroke="#111" stroke-width="1.6" />
<line x1="372.00" y1="313.00" x2="495.00" y2="311.80" stroke="#111" stroke-width="1.6" />
<line x1="372.00" y1="318.00" x2="495.00" y2="315.50" stroke="#111" stroke-width="1.6" />
<line x1="372.00" y1="331.70" x2="495.00" y2="333.00" stroke="#111" stroke-width="1.6" />
<line x1="372.00" y1="336.70" x2="495.00" y2="336.70" stroke="#111" stroke-width="1.6" />
<line x1="372.00" y1="343.00" x2="495.00" y2="341.00" stroke="#111" stroke-width="1.6" />
<line x1="372.00" y1="354.80" x2="495.00" y2="352.30" stroke="#111" stroke-width="1.6" />
<line x1="372.00" y1="362.20" x2="495.00" y2="357.20" stroke="#111" stroke-width="1.6" />
<rect x="372.20" y="251.60" width="5.50" height="7.20" rx="0" stroke="#111" stroke-width="1.1" fill="none"/>
<rect x="372.20" y="281.00" width="5.50" height="7.70" rx="0" stroke="#111" stroke-width="1.1" fill="none"/>
<rect x="372.20" y="320.00" width="5.50" height="7.00" rx="0" stroke="#111" stroke-width="1.1" fill="none"/>
<rect x="372.20" y="349.00" width="5.50" height="7.00" rx="0" stroke="#111" stroke-width="1.1" fill="none"/>
<rect x="434.70" y="249.40" width="6.20" height="18.30" rx="0" stroke="#111" stroke-width="0" fill="#000"/>
<rect x="434.70" y="273.80" width="6.20" height="23.80" rx="0" stroke="#111" stroke-width="0" fill="#000"/>
<rect x="434.70" y="312.40" width="6.20" height="23.10" rx="0" stroke="#111" stroke-width="0" fill="#000"/>
<rect x="434.70" y="342.30" width="6.20" height="18.10" rx="0" stroke="#111" stroke-width="0" fill="#000"/>
<circle cx="417.30" cy="305.00" r="6.20" stroke="#111" stroke-width="1.3" fill="none"/>
<circle cx="417.30" cy="305.00" r="2.50" stroke="#111" stroke-width="1.3" fill="none"/>
<line x1="416.70" y1="193.40" x2="416.70" y2="250.00" stroke="#111" stroke-width="1.2" />
<rect x="411.00" y="197.30" width="14.00" height="2.60" rx="0" stroke="#111" stroke-width="1.1" fill="#222"/>
<rect x="412.50" y="199.90" width="9.00" height="3.60" rx="0" stroke="#111" stroke-width="1.0" fill="none"/>
<rect x="401.50" y="203.50" width="31.20" height="29.80" rx="0" stroke="#111" stroke-width="1.5" fill="none"/>
<line x1="401.50" y1="207.00" x2="432.70" y2="207.00" stroke="#111" stroke-width="1.1" />
<line x1="401.50" y1="229.70" x2="432.70" y2="229.70" stroke="#111" stroke-width="1.1" />
<path d="M404,233.3 L410.5,240 L423,240 L429.5,233.3" stroke="#111" stroke-width="1.3" fill="none" stroke-linejoin="round" stroke-linecap="round" />
<rect x="411.00" y="240.00" width="11.50" height="3.70" rx="0" stroke="#111" stroke-width="1.1" fill="none"/>
<rect x="501.90" y="262.40" width="6.20" height="11.90" rx="0" stroke="#111" stroke-width="1.2" fill="none"/>
<line x1="501.90" y1="268.35" x2="508.10" y2="268.35" stroke="#111" stroke-width="1.0" />
<rect x="501.90" y="334.70" width="6.20" height="13.70" rx="0" stroke="#111" stroke-width="1.2" fill="none"/>
<line x1="501.90" y1="341.55" x2="508.10" y2="341.55" stroke="#111" stroke-width="1.0" />
<line x1="507.50" y1="262.40" x2="507.50" y2="348.40" stroke="#111" stroke-width="1.3" />
<path d="M507.5,262.4 L518.7,259.5 M507.5,348.4 L518.7,351.2" stroke="#111" stroke-width="1.3" fill="none" stroke-linejoin="round" stroke-linecap="round" />
<path d="M518.7,256.8 L530.5,253.5 L596,253.5 M518.7,353.2 L530.5,356.5 L596,356.5" stroke="#111" stroke-width="1.5" fill="none" stroke-linejoin="round" stroke-linecap="round" />
<line x1="518.70" y1="256.80" x2="518.70" y2="353.20" stroke="#111" stroke-width="1.4" />
<line x1="519.00" y1="258.70" x2="596.00" y2="258.70" stroke="#111" stroke-width="2.0" />
<line x1="519.00" y1="263.00" x2="596.00" y2="263.00" stroke="#111" stroke-width="2.0" />
<line x1="519.00" y1="271.20" x2="596.00" y2="271.20" stroke="#111" stroke-width="2.0" />
<line x1="519.00" y1="275.50" x2="596.00" y2="275.50" stroke="#111" stroke-width="2.0" />
<line x1="519.00" y1="281.70" x2="596.00" y2="281.70" stroke="#111" stroke-width="2.0" />
<line x1="519.00" y1="288.60" x2="596.00" y2="288.60" stroke="#111" stroke-width="2.0" />
<line x1="519.00" y1="295.40" x2="596.00" y2="295.40" stroke="#111" stroke-width="2.0" />
<line x1="519.00" y1="301.70" x2="596.00" y2="301.70" stroke="#111" stroke-width="2.0" />
<line x1="519.00" y1="308.50" x2="596.00" y2="308.50" stroke="#111" stroke-width="2.0" />
<line x1="519.00" y1="314.70" x2="596.00" y2="314.70" stroke="#111" stroke-width="2.0" />
<line x1="519.00" y1="321.00" x2="596.00" y2="321.00" stroke="#111" stroke-width="2.0" />
<line x1="519.00" y1="327.80" x2="596.00" y2="327.80" stroke="#111" stroke-width="2.0" />
<line x1="519.00" y1="334.70" x2="596.00" y2="334.70" stroke="#111" stroke-width="2.0" />
<line x1="519.00" y1="338.40" x2="596.00" y2="338.40" stroke="#111" stroke-width="2.0" />
<line x1="519.00" y1="345.90" x2="596.00" y2="345.90" stroke="#111" stroke-width="2.0" />
<line x1="519.00" y1="350.90" x2="596.00" y2="350.90" stroke="#111" stroke-width="2.0" />
<rect x="511.00" y="265.50" width="14.00" height="15.00" rx="0" stroke="#111" stroke-width="1.2" fill="none"/>
<line x1="511.00" y1="273.00" x2="525.00" y2="273.00" stroke="#111" stroke-width="1.0" />
<rect x="524.00" y="269.50" width="3.50" height="7.00" rx="0" stroke="#111" stroke-width="1.0" fill="none"/>
<rect x="511.00" y="329.70" width="14.00" height="15.00" rx="0" stroke="#111" stroke-width="1.2" fill="none"/>
<line x1="511.00" y1="337.20" x2="525.00" y2="337.20" stroke="#111" stroke-width="1.0" />
<rect x="524.00" y="333.70" width="3.50" height="7.00" rx="0" stroke="#111" stroke-width="1.0" fill="none"/>
<path d="M596.4,252.7 L627,252.7 L641.7,266.5 L641.7,344.3 L627,357.7 L596.4,357.7 Z" stroke="#111" stroke-width="1.6" fill="none" stroke-linejoin="round" stroke-linecap="round" />
<line x1="627.00" y1="252.70" x2="627.00" y2="357.70" stroke="#111" stroke-width="2.4" />
<line x1="596.40" y1="252.70" x2="596.40" y2="357.70" stroke="#111" stroke-width="1.6" />
<line x1="669.30" y1="222.00" x2="669.30" y2="427.40" stroke="#111" stroke-width="1.4" />
<line x1="669.50" y1="259.00" x2="675.50" y2="253.00" stroke="#111" stroke-width="1.2" />
<line x1="669.50" y1="265.40" x2="675.50" y2="259.40" stroke="#111" stroke-width="1.2" />
<line x1="669.50" y1="271.80" x2="675.50" y2="265.80" stroke="#111" stroke-width="1.2" />
<line x1="669.50" y1="278.20" x2="675.50" y2="272.20" stroke="#111" stroke-width="1.2" />
<line x1="669.50" y1="284.60" x2="675.50" y2="278.60" stroke="#111" stroke-width="1.2" />
<line x1="669.50" y1="291.00" x2="675.50" y2="285.00" stroke="#111" stroke-width="1.2" />
<line x1="669.50" y1="297.40" x2="675.50" y2="291.40" stroke="#111" stroke-width="1.2" />
<line x1="669.50" y1="303.80" x2="675.50" y2="297.80" stroke="#111" stroke-width="1.2" />
<line x1="669.50" y1="310.20" x2="675.50" y2="304.20" stroke="#111" stroke-width="1.2" />
<line x1="669.50" y1="316.60" x2="675.50" y2="310.60" stroke="#111" stroke-width="1.2" />
<line x1="669.50" y1="323.00" x2="675.50" y2="317.00" stroke="#111" stroke-width="1.2" />
<line x1="669.50" y1="329.40" x2="675.50" y2="323.40" stroke="#111" stroke-width="1.2" />
<line x1="669.50" y1="335.80" x2="675.50" y2="329.80" stroke="#111" stroke-width="1.2" />
<line x1="669.50" y1="342.20" x2="675.50" y2="336.20" stroke="#111" stroke-width="1.2" />
<line x1="669.50" y1="348.60" x2="675.50" y2="342.60" stroke="#111" stroke-width="1.2" />
<line x1="669.50" y1="355.00" x2="675.50" y2="349.00" stroke="#111" stroke-width="1.2" />
<line x1="669.50" y1="361.40" x2="675.50" y2="355.40" stroke="#111" stroke-width="1.2" />
<line x1="669.50" y1="367.80" x2="675.50" y2="361.80" stroke="#111" stroke-width="1.2" />
<line x1="669.50" y1="374.20" x2="675.50" y2="368.20" stroke="#111" stroke-width="1.2" />
<line x1="669.50" y1="380.60" x2="675.50" y2="374.60" stroke="#111" stroke-width="1.2" />
<line x1="154.60" y1="208.00" x2="154.60" y2="490.00" stroke="#555" stroke-width="1.0" />
<line x1="154.60" y1="210.00" x2="199.00" y2="210.00" stroke="#2a2a2a" stroke-width="1.0" />
<line x1="234.00" y1="210.00" x2="293.10" y2="210.00" stroke="#2a2a2a" stroke-width="1.0" />
<polygon points="154.6,210 167.6,207.6 167.6,212.4" fill="#111"/>
<polygon points="293.1,210 280.1,207.6 280.1,212.4" fill="#111"/>
<text x="207.8" y="213.9" font-size="21.5" text-anchor="start" fill="#111"><tspan>a</tspan><tspan font-size="16" dy="6">4</tspan></text>
<line x1="294.00" y1="175.00" x2="294.00" y2="195.00" stroke="#111" stroke-width="2.2" />
<polygon points="294,206.8 290.2,190.8 297.8,190.8" fill="#111"/>
<line x1="294.00" y1="209.00" x2="294.00" y2="445.00" stroke="#555" stroke-width="0.9" />
<line x1="294.00" y1="404.00" x2="294.00" y2="424.00" stroke="#111" stroke-width="2.2" />
<polygon points="294,436 290.2,420 297.8,420" fill="#111"/>
<line x1="200.90" y1="403.00" x2="200.90" y2="476.00" stroke="#555" stroke-width="1.0" />
<line x1="209.80" y1="389.00" x2="209.80" y2="461.00" stroke="#555" stroke-width="1.0" />
<line x1="454.10" y1="404.00" x2="454.10" y2="461.00" stroke="#555" stroke-width="1.0" />
<line x1="449.50" y1="392.00" x2="449.50" y2="447.00" stroke="#555" stroke-width="1.0" />
<line x1="458.00" y1="392.00" x2="458.00" y2="447.00" stroke="#555" stroke-width="1.0" />
<line x1="462.50" y1="404.00" x2="462.50" y2="476.00" stroke="#555" stroke-width="1.0" />
<line x1="642.20" y1="344.30" x2="642.20" y2="490.00" stroke="#555" stroke-width="1.0" />
<line x1="209.80" y1="444.40" x2="234.00" y2="444.40" stroke="#2a2a2a" stroke-width="1.0" />
<line x1="267.00" y1="444.40" x2="294.00" y2="444.40" stroke="#2a2a2a" stroke-width="1.0" />
<polygon points="209.8,444.4 222.8,442.0 222.8,446.79999999999995" fill="#111"/>
<polygon points="294,444.4 281,442.0 281,446.79999999999995" fill="#111"/>
<text x="241.7" y="448" font-size="21.5" text-anchor="start" fill="#111"><tspan>a</tspan><tspan font-size="16" dy="6">5</tspan></text>
<line x1="436.00" y1="444.10" x2="449.50" y2="444.10" stroke="#111" stroke-width="1.0" />
<polygon points="449.5,444.1 436.5,441.70000000000005 436.5,446.5" fill="#111"/>
<line x1="458.50" y1="444.10" x2="486.00" y2="444.10" stroke="#111" stroke-width="1.0" />
<polygon points="458.5,444.1 471.5,441.70000000000005 471.5,446.5" fill="#111"/>
<text x="492.7" y="450.7" font-size="21.5" text-anchor="start" fill="#111"><tspan>a</tspan><tspan font-size="16" dy="6">3</tspan></text>
<line x1="209.80" y1="458.40" x2="345.70" y2="458.40" stroke="#2a2a2a" stroke-width="1.0" />
<line x1="383.90" y1="458.40" x2="454.10" y2="458.40" stroke="#2a2a2a" stroke-width="1.0" />
<polygon points="209.8,458.4 222.8,456.0 222.8,460.79999999999995" fill="#111"/>
<polygon points="454.1,458.4 441.1,456.0 441.1,460.79999999999995" fill="#111"/>
<text x="355" y="464.3" font-size="21.5" text-anchor="start" fill="#111"><tspan>a</tspan><tspan font-size="16" dy="6">2</tspan></text>
<line x1="200.90" y1="473.00" x2="312.50" y2="473.00" stroke="#888" stroke-width="1.5" />
<line x1="343.20" y1="473.00" x2="462.50" y2="473.00" stroke="#888" stroke-width="1.5" />
<polygon points="200.9,473 213.9,470.6 213.9,475.4" fill="#111"/>
<polygon points="462.5,473 449.5,470.6 449.5,475.4" fill="#111"/>
<text x="321.8" y="477.8" font-size="21.5" text-anchor="start" fill="#111"><tspan>a</tspan><tspan font-size="16" dy="6">1</tspan></text>
<line x1="154.70" y1="487.90" x2="384.70" y2="487.90" stroke="#888" stroke-width="1.5" />
<line x1="405.50" y1="487.90" x2="642.20" y2="487.90" stroke="#888" stroke-width="1.5" />
<polygon points="154.7,487.9 167.7,485.5 167.7,490.29999999999995" fill="#111"/>
<polygon points="642.2,487.9 629.2,485.5 629.2,490.29999999999995" fill="#111"/>
<text x="389.7" y="493.6" font-size="21.5" text-anchor="start" fill="#111"><tspan>a</tspan></text>
<line x1="621.00" y1="409.00" x2="669.30" y2="409.00" stroke="#111" stroke-width="1.0" />
<polygon points="642.2,409 629.2,406.6 629.2,411.4" fill="#111"/>
<polygon points="669.3,409 682.3,406.6 682.3,411.4" fill="#111"/>
<text x="609" y="415" font-size="21.5" text-anchor="start" fill="#111"><tspan>d</tspan></text>
<path d="M761.5,266.4 C752,285 749,310 752,330 C756,350 766,362 781.2,369.1" stroke="#111" stroke-width="2.0" fill="none" stroke-linejoin="round" stroke-linecap="round" />
<path d="M727.3,278.9 L717.2,263.3 L760.8,220 L772.4,231.4" stroke="#111" stroke-width="1.8" fill="none" stroke-linejoin="round" stroke-linecap="round" />
<path d="M726.5,278.9 L780.2,230.7" stroke="#111" stroke-width="2.6" fill="none" stroke-linejoin="round" stroke-linecap="round" />
<path d="M729.7,281.2 L782.5,232.2" stroke="#111" stroke-width="1.2" fill="none" stroke-linejoin="round" stroke-linecap="round" />
<path d="M724.5,276.2 L777.5,227.5" stroke="#111" stroke-width="1.0" fill="none" stroke-linejoin="round" stroke-linecap="round" />
<path d="M731,283 L749.9,305.3" stroke="#111" stroke-width="1.3" fill="none" stroke-linejoin="round" stroke-linecap="round" />
<path d="M782.5,232.2 L797.3,219.8 L810.5,219.8" stroke="#111" stroke-width="1.8" fill="none" stroke-linejoin="round" stroke-linecap="round" />
<line x1="736.70" y1="240.00" x2="802.00" y2="304.50" stroke="#444" stroke-width="0.9" />
<rect x="731.50" y="268.50" width="3.50" height="3.00" rx="0" stroke="#111" stroke-width="1.0" fill="none"/>
<rect x="766.00" y="234.50" width="3.50" height="3.00" rx="0" stroke="#111" stroke-width="1.0" fill="none"/>
<rect x="772.50" y="239.00" width="176.80" height="131.00" rx="65.5" stroke="#111" stroke-width="1.8" fill="#fff"/>
<rect x="774.70" y="241.20" width="172.40" height="126.60" rx="63.3" stroke="#111" stroke-width="1.0" fill="none"/>
<rect x="777.80" y="244.30" width="166.20" height="120.40" rx="60.2" stroke="#111" stroke-width="1.1" fill="none"/>
<rect x="792.50" y="259.00" width="136.80" height="91.00" rx="45.5" stroke="#111" stroke-width="1.4" fill="none"/>
<path d="M818.27,248.86 L819.24,249.66 L820.06,250.61 L820.69,251.69 L821.14,252.87 L821.37,254.10 L821.38,255.35 L821.17,256.59 L820.76,257.78 L820.14,258.87 L819.34,259.84 L818.39,260.66 L817.31,261.29 L816.13,261.74 L814.90,261.97 L813.65,261.98 L812.41,261.77 L811.22,261.36 L810.13,260.74 L809.16,259.94 L808.34,258.99 L807.71,257.91 L807.26,256.73 L807.03,255.50 L807.02,254.25" stroke="#111" stroke-width="1.4" fill="none"/>
<path d="M826.69,255.33 L826.59,256.45 L826.39,257.56 L826.09,258.64 L825.70,259.70 L825.21,260.72 L824.63,261.68 L823.97,262.59 L823.23,263.44 L822.42,264.22 L821.53,264.92 L820.59,265.54 L819.60,266.07 L818.56,266.51 L817.49,266.86 L816.39,267.11 L815.27,267.25 L814.15,267.30 L813.02,267.24 L811.91,267.09 L810.81,266.83 L809.74,266.48 L808.71,266.03 L807.72,265.49 L806.78,264.86" stroke="#111" stroke-width="1.3" fill="none"/>
<path d="M807.02,254.25 C807.33,250.26 819.04,246.38 824.45,243.79" stroke="#111" stroke-width="1.4" fill="none"/>
<path d="M818.27,248.86 C814.97,246.60 804.61,253.29 799.20,255.89" stroke="#111" stroke-width="1.4" fill="none"/>
<circle cx="814.20" cy="254.80" r="4.60" stroke="#111" stroke-width="1.3" fill="#fff"/>
<circle cx="814.20" cy="254.80" r="2.20" stroke="#111" stroke-width="1.2" fill="none"/>
<path d="M783.79,276.89 L785.04,276.80 L786.29,276.93 L787.49,277.28 L788.62,277.84 L789.63,278.58 L790.50,279.48 L791.20,280.52 L791.71,281.67 L792.01,282.89 L792.10,284.14 L791.97,285.39 L791.62,286.59 L791.06,287.72 L790.32,288.73 L789.42,289.60 L788.38,290.30 L787.23,290.81 L786.01,291.11 L784.76,291.20 L783.51,291.07 L782.31,290.72 L781.18,290.16 L780.17,289.42 L779.30,288.52" stroke="#111" stroke-width="1.4" fill="none"/>
<path d="M794.35,275.82 L795.05,276.70 L795.66,277.65 L796.19,278.64 L796.63,279.68 L796.97,280.75 L797.21,281.85 L797.36,282.97 L797.40,284.10 L797.34,285.22 L797.18,286.34 L796.92,287.43 L796.56,288.50 L796.11,289.53 L795.56,290.52 L794.93,291.45 L794.22,292.33 L793.43,293.13 L792.58,293.86 L791.66,294.52 L790.68,295.08 L789.66,295.56 L788.60,295.94 L787.51,296.22 L786.40,296.41" stroke="#111" stroke-width="1.3" fill="none"/>
<path d="M779.30,288.52 C776.78,285.41 782.65,274.56 784.81,268.96" stroke="#111" stroke-width="1.4" fill="none"/>
<path d="M783.79,276.89 C779.84,277.50 776.89,289.48 774.73,295.08" stroke="#111" stroke-width="1.4" fill="none"/>
<circle cx="784.90" cy="284.00" r="4.60" stroke="#111" stroke-width="1.3" fill="#fff"/>
<circle cx="784.90" cy="284.00" r="2.20" stroke="#111" stroke-width="1.2" fill="none"/>
<path d="M779.26,321.03 L780.12,320.11 L781.13,319.37 L782.25,318.80 L783.45,318.45 L784.70,318.30 L785.95,318.38 L787.18,318.67 L788.33,319.17 L789.37,319.86 L790.29,320.72 L791.03,321.73 L791.60,322.85 L791.95,324.05 L792.10,325.30 L792.02,326.55 L791.73,327.78 L791.23,328.93 L790.54,329.97 L789.68,330.89 L788.67,331.63 L787.55,332.20 L786.35,332.55 L785.10,332.70 L783.85,332.62" stroke="#111" stroke-width="1.4" fill="none"/>
<path d="M786.30,313.08 L787.41,313.25 L788.50,313.53 L789.57,313.90 L790.59,314.37 L791.57,314.93 L792.50,315.57 L793.36,316.30 L794.15,317.10 L794.87,317.96 L795.51,318.89 L796.06,319.87 L796.52,320.90 L796.89,321.97 L797.16,323.06 L797.33,324.18 L797.40,325.30 L797.37,326.43 L797.23,327.55 L797.00,328.65 L796.66,329.73 L796.24,330.77 L795.72,331.77 L795.11,332.72 L794.42,333.61" stroke="#111" stroke-width="1.3" fill="none"/>
<path d="M783.85,332.62 C779.89,332.04 776.84,320.08 774.64,314.50" stroke="#111" stroke-width="1.4" fill="none"/>
<path d="M779.26,321.03 C776.77,324.16 782.73,334.96 784.93,340.54" stroke="#111" stroke-width="1.4" fill="none"/>
<circle cx="784.90" cy="325.50" r="4.60" stroke="#111" stroke-width="1.3" fill="#fff"/>
<circle cx="784.90" cy="325.50" r="2.20" stroke="#111" stroke-width="1.2" fill="none"/>
<path d="M807.02,354.75 L807.03,353.50 L807.26,352.27 L807.71,351.09 L808.34,350.01 L809.16,349.06 L810.13,348.26 L811.22,347.64 L812.41,347.23 L813.65,347.02 L814.90,347.03 L816.13,347.26 L817.31,347.71 L818.39,348.34 L819.34,349.16 L820.14,350.13 L820.76,351.22 L821.17,352.41 L821.38,353.65 L821.37,354.90 L821.14,356.13 L820.69,357.31 L820.06,358.39 L819.24,359.34 L818.27,360.14" stroke="#111" stroke-width="1.4" fill="none"/>
<path d="M806.78,344.14 L807.72,343.51 L808.71,342.97 L809.74,342.52 L810.81,342.17 L811.91,341.91 L813.02,341.76 L814.15,341.70 L815.27,341.75 L816.39,341.89 L817.49,342.14 L818.56,342.49 L819.60,342.93 L820.59,343.46 L821.53,344.08 L822.42,344.78 L823.23,345.56 L823.97,346.41 L824.63,347.32 L825.21,348.28 L825.70,349.30 L826.09,350.36 L826.39,351.44 L826.59,352.55 L826.69,353.67" stroke="#111" stroke-width="1.3" fill="none"/>
<path d="M818.27,360.14 C814.97,362.40 804.61,355.71 799.20,353.11" stroke="#111" stroke-width="1.4" fill="none"/>
<path d="M807.02,354.75 C807.33,358.74 819.04,362.62 824.45,365.21" stroke="#111" stroke-width="1.4" fill="none"/>
<circle cx="814.20" cy="354.20" r="4.60" stroke="#111" stroke-width="1.3" fill="#fff"/>
<circle cx="814.20" cy="354.20" r="2.20" stroke="#111" stroke-width="1.2" fill="none"/>
<path d="M912.76,254.24 L912.78,255.50 L912.59,256.74 L912.18,257.92 L911.57,259.02 L910.78,260.00 L909.84,260.82 L908.76,261.47 L907.59,261.92 L906.36,262.16 L905.10,262.18 L903.86,261.99 L902.68,261.58 L901.58,260.97 L900.60,260.18 L899.78,259.24 L899.13,258.16 L898.68,256.99 L898.44,255.76 L898.42,254.50 L898.61,253.26 L899.02,252.08 L899.63,250.98 L900.42,250.00 L901.36,249.18" stroke="#111" stroke-width="1.4" fill="none"/>
<path d="M913.30,264.85 L912.38,265.50 L911.41,266.07 L910.39,266.55 L909.33,266.93 L908.24,267.22 L907.13,267.41 L906.01,267.49 L904.88,267.48 L903.76,267.36 L902.65,267.15 L901.57,266.83 L900.52,266.42 L899.52,265.92 L898.56,265.33 L897.66,264.65 L896.82,263.90 L896.05,263.07 L895.37,262.18 L894.76,261.23 L894.24,260.22 L893.82,259.18 L893.49,258.10 L893.26,257.00 L893.13,255.88" stroke="#111" stroke-width="1.3" fill="none"/>
<path d="M901.36,249.18 C904.60,246.82 915.14,253.22 920.63,255.66" stroke="#111" stroke-width="1.4" fill="none"/>
<path d="M912.76,254.24 C912.34,250.26 900.52,246.72 895.04,244.29" stroke="#111" stroke-width="1.4" fill="none"/>
<circle cx="905.60" cy="255.00" r="4.60" stroke="#111" stroke-width="1.3" fill="#fff"/>
<circle cx="905.60" cy="255.00" r="2.20" stroke="#111" stroke-width="1.2" fill="none"/>
<path d="M939.77,288.64 L938.91,289.56 L937.90,290.31 L936.79,290.88 L935.58,291.25 L934.34,291.40 L933.09,291.33 L931.86,291.04 L930.71,290.55 L929.66,289.87 L928.74,289.01 L927.99,288.00 L927.42,286.89 L927.05,285.68 L926.90,284.44 L926.97,283.19 L927.26,281.96 L927.75,280.81 L928.43,279.76 L929.29,278.84 L930.30,278.09 L931.41,277.52 L932.62,277.15 L933.86,277.00 L935.11,277.07" stroke="#111" stroke-width="1.4" fill="none"/>
<path d="M932.77,296.63 L931.66,296.46 L930.56,296.19 L929.50,295.82 L928.47,295.36 L927.49,294.81 L926.56,294.17 L925.69,293.45 L924.89,292.66 L924.17,291.79 L923.53,290.87 L922.97,289.89 L922.50,288.86 L922.13,287.80 L921.85,286.71 L921.68,285.59 L921.60,284.47 L921.63,283.34 L921.76,282.22 L921.99,281.12 L922.31,280.04 L922.73,279.00 L923.25,277.99 L923.85,277.04 L924.54,276.15" stroke="#111" stroke-width="1.3" fill="none"/>
<path d="M935.11,277.07 C939.07,277.64 942.19,289.57 944.42,295.14" stroke="#111" stroke-width="1.4" fill="none"/>
<path d="M939.77,288.64 C942.23,285.50 936.22,274.73 933.98,269.16" stroke="#111" stroke-width="1.4" fill="none"/>
<circle cx="934.10" cy="284.20" r="4.60" stroke="#111" stroke-width="1.3" fill="#fff"/>
<circle cx="934.10" cy="284.20" r="2.20" stroke="#111" stroke-width="1.2" fill="none"/>
<path d="M935.66,332.64 L934.41,332.69 L933.16,332.53 L931.96,332.16 L930.85,331.58 L929.85,330.82 L929.00,329.90 L928.32,328.84 L927.84,327.68 L927.56,326.46 L927.51,325.21 L927.67,323.96 L928.04,322.76 L928.62,321.65 L929.38,320.65 L930.30,319.80 L931.36,319.12 L932.52,318.64 L933.74,318.36 L934.99,318.31 L936.24,318.47 L937.44,318.84 L938.55,319.42 L939.55,320.18 L940.40,321.10" stroke="#111" stroke-width="1.4" fill="none"/>
<path d="M925.08,333.48 L924.40,332.58 L923.80,331.62 L923.29,330.62 L922.88,329.57 L922.56,328.49 L922.34,327.38 L922.22,326.26 L922.21,325.13 L922.29,324.01 L922.47,322.90 L922.76,321.81 L923.14,320.75 L923.61,319.73 L924.18,318.75 L924.83,317.83 L925.56,316.97 L926.36,316.19 L927.24,315.47 L928.17,314.84 L929.16,314.30 L930.19,313.84 L931.26,313.48 L932.35,313.22 L933.47,313.06" stroke="#111" stroke-width="1.3" fill="none"/>
<path d="M940.40,321.10 C942.84,324.27 936.75,334.99 934.47,340.54" stroke="#111" stroke-width="1.4" fill="none"/>
<path d="M935.66,332.64 C939.62,332.10 942.83,320.19 945.11,314.64" stroke="#111" stroke-width="1.4" fill="none"/>
<circle cx="934.70" cy="325.50" r="4.60" stroke="#111" stroke-width="1.3" fill="#fff"/>
<circle cx="934.70" cy="325.50" r="2.20" stroke="#111" stroke-width="1.2" fill="none"/>
<path d="M901.11,360.58 L900.17,359.75 L899.39,358.77 L898.79,357.66 L898.40,356.47 L898.21,355.23 L898.25,353.98 L898.50,352.75 L898.96,351.58 L899.62,350.51 L900.45,349.57 L901.43,348.79 L902.54,348.19 L903.73,347.80 L904.97,347.61 L906.22,347.65 L907.45,347.90 L908.62,348.36 L909.69,349.02 L910.63,349.85 L911.41,350.83 L912.01,351.94 L912.40,353.13 L912.59,354.37 L912.55,355.62" stroke="#111" stroke-width="1.4" fill="none"/>
<path d="M892.94,353.80 L893.08,352.69 L893.32,351.59 L893.66,350.51 L894.09,349.47 L894.62,348.47 L895.23,347.53 L895.93,346.64 L896.70,345.82 L897.55,345.08 L898.45,344.41 L899.42,343.83 L900.43,343.33 L901.48,342.93 L902.57,342.63 L903.68,342.42 L904.80,342.31 L905.92,342.31 L907.05,342.41 L908.16,342.61 L909.24,342.91 L910.30,343.30 L911.31,343.79 L912.28,344.36 L913.19,345.03" stroke="#111" stroke-width="1.3" fill="none"/>
<path d="M912.55,355.62 C912.10,359.60 900.25,363.03 894.74,365.41" stroke="#111" stroke-width="1.4" fill="none"/>
<path d="M901.11,360.58 C904.32,362.97 914.93,356.67 920.43,354.28" stroke="#111" stroke-width="1.4" fill="none"/>
<circle cx="905.40" cy="354.80" r="4.60" stroke="#111" stroke-width="1.3" fill="#fff"/>
<circle cx="905.40" cy="354.80" r="2.20" stroke="#111" stroke-width="1.2" fill="none"/>
<rect x="946.50" y="295.00" width="4.00" height="19.00" rx="0" stroke="#111" stroke-width="1.3" fill="none"/>
<rect x="810.5" y="218.6" width="99" height="25" fill="#fff"/>
<path d="M810.5,244.8 L810.5,218.6 L909.5,218.6 L909.5,242.1" stroke="#111" stroke-width="1.6" fill="none" stroke-linejoin="round" stroke-linecap="round" />
<rect x="823.50" y="215.40" width="86.00" height="3.00" rx="0" stroke="#111" stroke-width="0.8" fill="#444"/>
<line x1="818.00" y1="224.20" x2="909.50" y2="224.20" stroke="#111" stroke-width="2.2" />
<line x1="818.50" y1="218.60" x2="818.50" y2="244.00" stroke="#111" stroke-width="1.0" />
<line x1="821.90" y1="224.20" x2="821.90" y2="244.00" stroke="#111" stroke-width="1.0" />
<path d="M828,224.2 C832,226 836,228 838,232 C840,238 842,241 846,243.5" stroke="#111" stroke-width="1.1" fill="none" stroke-linejoin="round" stroke-linecap="round" />
<path d="M892.8,224.2 C888,226 884,228 882,232 C880,238 878,241 874,243.5" stroke="#111" stroke-width="1.1" fill="none" stroke-linejoin="round" stroke-linecap="round" />
<path d="M838,232 L852,236 M882,232 L868,236" stroke="#111" stroke-width="1.0" fill="none" stroke-linejoin="round" stroke-linecap="round" />
<path d="M850,224.5 L856,233 L856,243 M870.8,224.5 L864.8,233 L864.8,243" stroke="#111" stroke-width="1.3" fill="none" stroke-linejoin="round" stroke-linecap="round" />
<line x1="857.50" y1="230.00" x2="857.50" y2="243.00" stroke="#111" stroke-width="1.4" />
<line x1="863.30" y1="230.00" x2="863.30" y2="243.00" stroke="#111" stroke-width="1.4" />
<line x1="824.00" y1="244.40" x2="897.00" y2="244.40" stroke="#111" stroke-width="1.3" />
<line x1="827.30" y1="257.30" x2="893.00" y2="257.30" stroke="#111" stroke-width="1.1" />
<line x1="828.00" y1="244.40" x2="828.00" y2="257.30" stroke="#111" stroke-width="1.0" />
<line x1="835.00" y1="244.40" x2="835.00" y2="257.30" stroke="#111" stroke-width="1.0" />
<line x1="886.00" y1="244.40" x2="886.00" y2="257.30" stroke="#111" stroke-width="1.0" />
<line x1="893.00" y1="244.40" x2="893.00" y2="257.30" stroke="#111" stroke-width="1.0" />
<rect x="869.90" y="204.50" width="30.50" height="11.60" rx="0" stroke="#111" stroke-width="1.5" fill="none"/>
<rect x="868.50" y="202.50" width="33.50" height="3.00" rx="0" stroke="#111" stroke-width="1.2" fill="none"/>
<rect x="880.30" y="197.50" width="9.70" height="5.00" rx="0" stroke="#111" stroke-width="1.2" fill="none"/>
<rect x="804.60" y="277.80" width="97.00" height="54.00" rx="27" stroke="#111" stroke-width="2.8" fill="none"/>
<circle cx="913.50" cy="334.20" r="13.20" stroke="#111" stroke-width="2.4" fill="#fff"/>
<circle cx="913.50" cy="334.20" r="9.60" stroke="#111" stroke-width="1.2" fill="none"/>
<circle cx="913.50" cy="334.20" r="7.00" stroke="#111" stroke-width="1.0" fill="none"/>
<line x1="905.00" y1="334.20" x2="908.00" y2="334.20" stroke="#111" stroke-width="1.0" />
<line x1="919.00" y1="334.20" x2="922.00" y2="334.20" stroke="#111" stroke-width="1.0" />
<line x1="827.40" y1="352.50" x2="892.20" y2="352.50" stroke="#111" stroke-width="1.3" />
<line x1="826.00" y1="363.60" x2="894.00" y2="363.60" stroke="#111" stroke-width="1.2" />
<line x1="826.00" y1="365.20" x2="894.00" y2="365.20" stroke="#111" stroke-width="1.0" />
<line x1="827.40" y1="352.50" x2="827.40" y2="364.00" stroke="#111" stroke-width="1.1" />
<line x1="835.30" y1="352.50" x2="835.30" y2="364.00" stroke="#111" stroke-width="1.1" />
<line x1="883.90" y1="352.50" x2="883.90" y2="364.00" stroke="#111" stroke-width="1.1" />
<line x1="892.20" y1="352.50" x2="892.20" y2="364.00" stroke="#111" stroke-width="1.1" />
<path d="M810,366.6 L810,391.9 L908.8,391.9 L908.8,366.6" stroke="#111" stroke-width="1.3" fill="none" stroke-linejoin="round" stroke-linecap="round" />
<line x1="818.30" y1="384.80" x2="908.00" y2="384.80" stroke="#111" stroke-width="2.2" />
<path d="M853.2,384 C855,380 856,378.2 858.1,378.2 L863.1,378.2 C865,378.2 866.5,380 868.1,384" stroke="#111" stroke-width="1.3" fill="none" stroke-linejoin="round" stroke-linecap="round" />
<line x1="856.50" y1="370.00" x2="856.50" y2="378.20" stroke="#111" stroke-width="1.1" />
<line x1="863.10" y1="370.00" x2="863.10" y2="378.20" stroke="#111" stroke-width="1.1" />
<rect x="851.50" y="367.00" width="17.40" height="1.70" rx="0" stroke="#111" stroke-width="1.0" fill="none"/>
<path d="M831.6,369 C836,371 838.2,374 838.2,381.5 M838.2,376.6 L854,376.6 M889,369 C884,371 882,374 882,381.5 M882,376.6 L866,376.6" stroke="#111" stroke-width="1.1" fill="none" stroke-linejoin="round" stroke-linecap="round" />
<line x1="823.30" y1="366.60" x2="823.30" y2="382.50" stroke="#111" stroke-width="1.0" />
<line x1="888.00" y1="368.00" x2="888.00" y2="381.50" stroke="#111" stroke-width="1.0" />
<line x1="812.00" y1="368.50" x2="856.00" y2="368.50" stroke="#111" stroke-width="1.0" />
<line x1="864.00" y1="368.50" x2="907.00" y2="368.50" stroke="#111" stroke-width="1.0" />
<path d="M808,384 L818,386 L819,390.5 L811,390.5" stroke="#111" stroke-width="1.1" fill="none" stroke-linejoin="round" stroke-linecap="round" />
<path d="M783.7,366 L806.7,366 L808,403.4 L777.5,403.4 Z" stroke="#111" stroke-width="1.5" fill="#fff" stroke-linejoin="round" stroke-linecap="round" />
<line x1="789.00" y1="366.00" x2="785.50" y2="389.70" stroke="#111" stroke-width="1.0" />
<line x1="803.50" y1="366.00" x2="804.00" y2="389.70" stroke="#111" stroke-width="1.0" />
<line x1="779.50" y1="389.70" x2="808.00" y2="389.70" stroke="#111" stroke-width="1.2" />
<line x1="779.00" y1="392.50" x2="808.00" y2="392.50" stroke="#111" stroke-width="1.0" />
<line x1="783.00" y1="392.50" x2="783.00" y2="403.40" stroke="#111" stroke-width="1.1" />
<line x1="787.40" y1="392.50" x2="787.40" y2="403.40" stroke="#111" stroke-width="1.1" />
<line x1="791.80" y1="392.50" x2="791.80" y2="403.40" stroke="#111" stroke-width="1.1" />
<line x1="794.90" y1="392.50" x2="794.90" y2="403.40" stroke="#111" stroke-width="1.1" />
<line x1="798.60" y1="392.50" x2="798.60" y2="403.40" stroke="#111" stroke-width="1.1" />
<line x1="802.40" y1="392.50" x2="802.40" y2="403.40" stroke="#111" stroke-width="1.1" />
<path d="M913.5,367.2 L934.7,367.2 L940.9,403.4 L912.3,403.4 Z" stroke="#111" stroke-width="1.5" fill="#fff" stroke-linejoin="round" stroke-linecap="round" />
<line x1="917.00" y1="367.20" x2="916.00" y2="389.70" stroke="#111" stroke-width="1.0" />
<line x1="930.00" y1="367.20" x2="935.00" y2="389.70" stroke="#111" stroke-width="1.0" />
<line x1="912.30" y1="389.70" x2="938.50" y2="389.70" stroke="#111" stroke-width="1.2" />
<line x1="912.30" y1="392.50" x2="939.00" y2="392.50" stroke="#111" stroke-width="1.0" />
<line x1="916.50" y1="392.50" x2="916.50" y2="403.40" stroke="#111" stroke-width="1.1" />
<line x1="920.50" y1="392.50" x2="920.50" y2="403.40" stroke="#111" stroke-width="1.1" />
<line x1="924.50" y1="392.50" x2="924.50" y2="403.40" stroke="#111" stroke-width="1.1" />
<line x1="928.50" y1="392.50" x2="928.50" y2="403.40" stroke="#111" stroke-width="1.1" />
<line x1="932.50" y1="392.50" x2="932.50" y2="403.40" stroke="#111" stroke-width="1.1" />
<line x1="936.50" y1="392.50" x2="936.50" y2="403.40" stroke="#111" stroke-width="1.1" />
<path d="M934.7,367.2 L930,350" stroke="#111" stroke-width="1.3" fill="none" stroke-linejoin="round" stroke-linecap="round" />
<path d="M783.7,366 L790,349.8" stroke="#111" stroke-width="1.3" fill="none" stroke-linejoin="round" stroke-linecap="round" />
<line x1="734.30" y1="304.60" x2="962.00" y2="304.60" stroke="#555" stroke-width="1.0" />
<line x1="860.40" y1="209.00" x2="860.40" y2="405.00" stroke="#555" stroke-width="1.0" />
<line x1="701.70" y1="220.00" x2="760.80" y2="220.00" stroke="#555" stroke-width="1.0" />
<line x1="702.40" y1="220.00" x2="702.40" y2="295.50" stroke="#2a2a2a" stroke-width="1.0" />
<line x1="702.40" y1="325.00" x2="702.40" y2="403.40" stroke="#2a2a2a" stroke-width="1.0" />
<polygon points="702.4,220 700.0,233 704.8,233" fill="#111"/>
<polygon points="702.4,403.4 700.0,390.4 704.8,390.4" fill="#111"/>
<text x="691.5" y="315.8" font-size="21.5" text-anchor="start" fill="#111"><tspan>h</tspan><tspan font-size="16" dy="6">7</tspan></text>
<line x1="717.20" y1="263.30" x2="717.20" y2="495.00" stroke="#555" stroke-width="1.0" />
<line x1="735.10" y1="304.60" x2="735.10" y2="340.70" stroke="#2a2a2a" stroke-width="1.0" />
<line x1="735.10" y1="368.20" x2="735.10" y2="403.40" stroke="#2a2a2a" stroke-width="1.0" />
<polygon points="735.1,304.6 732.7,317.6 737.5,317.6" fill="#111"/>
<polygon points="735.1,403.4 732.7,390.4 737.5,390.4" fill="#111"/>
<text x="727.2" y="360.2" font-size="21.5" text-anchor="start" fill="#111"><tspan>h</tspan><tspan font-size="16" dy="6">1</tspan></text>
<line x1="700.00" y1="403.40" x2="988.00" y2="403.40" stroke="#555" stroke-width="1.0" />
<line x1="901.00" y1="218.40" x2="988.00" y2="218.40" stroke="#555" stroke-width="1.0" />
<line x1="915.00" y1="391.00" x2="988.00" y2="391.00" stroke="#555" stroke-width="1.0" />
<line x1="964.20" y1="218.40" x2="964.20" y2="272.00" stroke="#2a2a2a" stroke-width="1.0" />
<line x1="964.20" y1="305.00" x2="964.20" y2="391.00" stroke="#2a2a2a" stroke-width="1.0" />
<polygon points="964.2,218.4 961.8000000000001,231.4 966.6,231.4" fill="#111"/>
<polygon points="964.2,391 961.8000000000001,378 966.6,378" fill="#111"/>
<text x="958.2" y="297.2" font-size="21.5" text-anchor="start" fill="#111"><tspan>h</tspan><tspan font-size="16" dy="6">2</tspan></text>
<line x1="983.60" y1="218.40" x2="983.60" y2="311.00" stroke="#2a2a2a" stroke-width="1.0" />
<line x1="983.60" y1="340.00" x2="983.60" y2="403.40" stroke="#2a2a2a" stroke-width="1.0" />
<polygon points="983.6,218.4 981.2,231.4 986.0,231.4" fill="#111"/>
<polygon points="983.6,403.4 981.2,390.4 986.0,390.4" fill="#111"/>
<text x="979" y="331.8" font-size="21.5" text-anchor="start" fill="#111"><tspan>h</tspan></text>
<line x1="858.70" y1="175.00" x2="858.70" y2="195.00" stroke="#111" stroke-width="2.2" />
<polygon points="858.7,206.8 854.9000000000001,190.8 862.5,190.8" fill="#111"/>
<line x1="859.80" y1="404.00" x2="859.80" y2="424.00" stroke="#111" stroke-width="2.2" />
<polygon points="859.8,435.5 856.0,419.5 863.5999999999999,419.5" fill="#111"/>
<text x="917.5" y="204.1" font-size="21.5" text-anchor="start" fill="#111"><tspan>DN</tspan></text>
<line x1="898.00" y1="218.50" x2="915.30" y2="208.30" stroke="#111" stroke-width="1.0" />
<text x="878.2" y="439.2" font-size="21.5" text-anchor="start" fill="#111"><tspan>DN</tspan></text>
<line x1="866.80" y1="389.70" x2="879.50" y2="421.00" stroke="#111" stroke-width="1.0" />
<line x1="772.50" y1="366.00" x2="772.50" y2="480.00" stroke="#555" stroke-width="1.0" />
<line x1="776.80" y1="403.00" x2="776.80" y2="466.00" stroke="#555" stroke-width="1.0" />
<line x1="787.10" y1="403.00" x2="787.10" y2="416.00" stroke="#555" stroke-width="1.0" />
<line x1="798.20" y1="403.00" x2="798.20" y2="416.00" stroke="#555" stroke-width="1.0" />
<line x1="794.40" y1="403.00" x2="794.40" y2="452.00" stroke="#555" stroke-width="1.0" />
<line x1="925.60" y1="403.00" x2="925.60" y2="452.00" stroke="#555" stroke-width="1.0" />
<line x1="942.20" y1="403.00" x2="942.20" y2="466.00" stroke="#555" stroke-width="1.0" />
<line x1="949.30" y1="300.00" x2="949.30" y2="495.00" stroke="#555" stroke-width="1.0" />
<line x1="925.70" y1="403.00" x2="925.70" y2="418.00" stroke="#555" stroke-width="1.0" />
<line x1="928.50" y1="403.00" x2="928.50" y2="418.00" stroke="#555" stroke-width="1.0" />
<line x1="774.00" y1="413.70" x2="787.10" y2="413.70" stroke="#111" stroke-width="1.0" />
<polygon points="786.5,413.7 773.5,411.3 773.5,416.09999999999997" fill="#111"/>
<line x1="798.20" y1="413.70" x2="823.80" y2="413.70" stroke="#111" stroke-width="1.0" />
<polygon points="799,413.7 812,411.3 812,416.09999999999997" fill="#111"/>
<text x="825.6" y="421" font-size="21.5" text-anchor="start" fill="#111"><tspan>b</tspan><tspan font-size="16" dy="6">6</tspan></text>
<line x1="903.60" y1="414.00" x2="925.70" y2="414.00" stroke="#111" stroke-width="1.0" />
<polygon points="925.7,414 912.2,411.6 912.2,416.4" fill="#111"/>
<line x1="928.50" y1="414.00" x2="942.60" y2="414.00" stroke="#111" stroke-width="1.0" />
<polygon points="928.5,414 942.5,411.6 942.5,416.4" fill="#111"/>
<text x="880.9" y="415.6" font-size="21.5" text-anchor="start" fill="#111"><tspan>b</tspan><tspan font-size="16" dy="6">9</tspan></text>
<line x1="794.40" y1="448.60" x2="824.60" y2="448.60" stroke="#2a2a2a" stroke-width="1.0" />
<line x1="859.60" y1="448.60" x2="925.60" y2="448.60" stroke="#2a2a2a" stroke-width="1.0" />
<polygon points="794.4,448.6 807.4,446.20000000000005 807.4,451.0" fill="#111"/>
<polygon points="925.6,448.6 912.6,446.20000000000005 912.6,451.0" fill="#111"/>
<text x="834.6" y="452.8" font-size="21.5" text-anchor="start" fill="#111"><tspan>b</tspan><tspan font-size="16" dy="6">2</tspan></text>
<line x1="776.80" y1="463.10" x2="853.90" y2="463.10" stroke="#2a2a2a" stroke-width="1.0" />
<line x1="888.20" y1="463.10" x2="942.20" y2="463.10" stroke="#2a2a2a" stroke-width="1.0" />
<polygon points="776.8,463.1 789.8,460.70000000000005 789.8,465.5" fill="#111"/>
<polygon points="942.2,463.1 929.2,460.70000000000005 929.2,465.5" fill="#111"/>
<text x="861.4" y="468.6" font-size="21.5" text-anchor="start" fill="#111"><tspan>b</tspan><tspan font-size="16" dy="6">1</tspan></text>
<line x1="772.50" y1="476.40" x2="828.80" y2="476.40" stroke="#2a2a2a" stroke-width="1.0" />
<line x1="854.70" y1="476.40" x2="949.30" y2="476.40" stroke="#2a2a2a" stroke-width="1.0" />
<polygon points="772.5,476.4 785.5,474.0 785.5,478.79999999999995" fill="#111"/>
<polygon points="949.3,476.4 936.3,474.0 936.3,478.79999999999995" fill="#111"/>
<text x="835" y="482.3" font-size="21.5" text-anchor="start" fill="#111"><tspan>b</tspan></text>
<line x1="717.20" y1="491.60" x2="795.00" y2="491.60" stroke="#888" stroke-width="1.4" />
<line x1="832.60" y1="491.60" x2="949.30" y2="491.60" stroke="#888" stroke-width="1.4" />
<polygon points="717.2,491.6 730.2,489.20000000000005 730.2,494.0" fill="#111"/>
<polygon points="949.3,491.6 936.3,489.20000000000005 936.3,494.0" fill="#111"/>
<text x="804.6" y="497.6" font-size="21.5" text-anchor="start" fill="#111"><tspan>b</tspan><tspan font-size="16" dy="6">7</tspan></text>
<path d="M1046.72,255.72 L1047.60,252.84 L1048.59,249.99 L1049.67,247.19 L1050.87,244.42 L1052.16,241.70 L1053.54,239.02 L1055.03,236.40 L1056.61,233.83 L1058.28,231.33 L1060.04,228.88 L1061.89,226.50 L1063.82,224.19 L1065.84,221.95 L1067.93,219.79 L1070.11,217.70 L1072.35,215.69 L1074.67,213.77 L1077.06,211.93 L1079.51,210.18 L1082.03,208.52 L1084.60,206.95 L1087.23,205.48 L1089.91,204.10 L1092.64,202.82 L1095.41,201.64 L1098.22,200.57 L1101.07,199.59 L1103.96,198.72 L1106.87,197.95 L1109.81,197.30 L1112.77,196.74 L1115.75,196.30 L1118.75,195.96 L1121.75,195.74 L1124.76,195.62 L1127.77,195.61 L1130.79,195.71 L1133.79,195.92 L1136.79,196.24 L1139.77,196.67 L1142.74,197.20 L1145.68,197.85 L1148.60,198.60 L1151.49,199.45 L1154.34,200.41 L1157.16,201.47 L1159.94,202.63 L1162.68,203.90 L1165.36,205.26 L1168.00,206.72" stroke="#111" stroke-width="2.0" fill="none"/>
<path d="M1156,173.2 L1167.6,162 L1210.8,205.6 L1202.5,214.7" stroke="#111" stroke-width="1.8" fill="none" stroke-linejoin="round" stroke-linecap="round" />
<line x1="1168.50" y1="163.00" x2="1210.50" y2="205.50" stroke="#111" stroke-width="2.8" />
<path d="M1150.2,170.7 L1203.3,224.6" stroke="#111" stroke-width="2.6" fill="none" stroke-linejoin="round" stroke-linecap="round" />
<path d="M1147.5,175.5 L1151,172 L1203.5,225 L1200.5,228 Z" stroke="#111" stroke-width="1.2" fill="none" stroke-linejoin="round" stroke-linecap="round" />
<path d="M1147.7,173.2 L1200.8,226.3" stroke="#111" stroke-width="1.2" fill="none" stroke-linejoin="round" stroke-linecap="round" />
<path d="M1147.7,173.2 L1126.2,195.6" stroke="#111" stroke-width="1.5" fill="none" stroke-linejoin="round" stroke-linecap="round" />
<path d="M1200.8,226.3 L1212.4,240.4 L1212.4,256" stroke="#111" stroke-width="1.5" fill="none" stroke-linejoin="round" stroke-linecap="round" />
<line x1="1194.20" y1="179.90" x2="1127.80" y2="246.20" stroke="#444" stroke-width="0.9" />
<rect x="1159.00" y="176.00" width="3.50" height="3.00" rx="0" stroke="#111" stroke-width="1.0" fill="none"/>
<rect x="1193.00" y="209.00" width="3.50" height="3.00" rx="0" stroke="#111" stroke-width="1.0" fill="none"/>
<rect x="1040.80" y="255.4" width="24.9" height="98.6" fill="#fff"/>
<line x1="1040.80" y1="255.40" x2="1040.80" y2="354.00" stroke="#111" stroke-width="1.2" />
<line x1="1040.80" y1="354.00" x2="1065.70" y2="354.00" stroke="#111" stroke-width="1.4" />
<path d="M1040.8,258 L1043.5,255.4 L1065.7,255.4" stroke="#111" stroke-width="1.4" fill="none" stroke-linejoin="round" stroke-linecap="round" />
<path d="M1041.5,260 L1046.2,265 L1046.2,297.2 M1046.2,312 L1046.2,344 L1041.5,350" stroke="#111" stroke-width="1.8" fill="none" stroke-linejoin="round" stroke-linecap="round" />
<line x1="1047.30" y1="268.10" x2="1065.70" y2="268.10" stroke="#111" stroke-width="1.3" />
<line x1="1047.30" y1="341.00" x2="1065.70" y2="341.00" stroke="#111" stroke-width="1.3" />
<path d="M1047.3,283.4 C1051.7,285 1058.2,283 1065.7,273.5" stroke="#111" stroke-width="1.3" fill="none" stroke-linejoin="round" stroke-linecap="round" />
<path d="M1047.3,325.8 C1051.7,324.2 1058.2,326.2 1065.7,335.7" stroke="#111" stroke-width="1.3" fill="none" stroke-linejoin="round" stroke-linecap="round" />
<path d="M1046.2,297.2 C1050,299 1052.5,302.8 1056.5,302.8 L1065.7,302.8" stroke="#111" stroke-width="1.3" fill="none" stroke-linejoin="round" stroke-linecap="round" />
<path d="M1046.2,312 C1050,310.2 1052.5,306.4 1056.5,306.4 L1065.7,306.4" stroke="#111" stroke-width="1.3" fill="none" stroke-linejoin="round" stroke-linecap="round" />
<line x1="1051.00" y1="284.50" x2="1051.00" y2="300.00" stroke="#111" stroke-width="1.0" />
<line x1="1051.00" y1="309.00" x2="1051.00" y2="325.00" stroke="#111" stroke-width="1.0" />
<line x1="1055.30" y1="284.50" x2="1055.30" y2="300.00" stroke="#111" stroke-width="1.0" />
<line x1="1055.30" y1="309.00" x2="1055.30" y2="325.00" stroke="#111" stroke-width="1.0" />
<line x1="1062.60" y1="284.50" x2="1062.60" y2="300.00" stroke="#111" stroke-width="1.0" />
<line x1="1062.60" y1="309.00" x2="1062.60" y2="325.00" stroke="#111" stroke-width="1.0" />
<line x1="1048.50" y1="268.10" x2="1048.50" y2="283.40" stroke="#111" stroke-width="1.0" />
<line x1="1048.50" y1="325.80" x2="1048.50" y2="341.00" stroke="#111" stroke-width="1.0" />
<rect x="1188.90" y="255.4" width="24.9" height="98.6" fill="#fff"/>
<line x1="1213.80" y1="255.40" x2="1213.80" y2="354.00" stroke="#111" stroke-width="1.2" />
<line x1="1213.80" y1="354.00" x2="1188.90" y2="354.00" stroke="#111" stroke-width="1.4" />
<path d="M1213.8,258 L1211.1,255.4 L1188.8999999999999,255.4" stroke="#111" stroke-width="1.4" fill="none" stroke-linejoin="round" stroke-linecap="round" />
<path d="M1213.1,260 L1208.3999999999999,265 L1208.3999999999999,297.2 M1208.3999999999999,312 L1208.3999999999999,344 L1213.1,350" stroke="#111" stroke-width="1.8" fill="none" stroke-linejoin="round" stroke-linecap="round" />
<line x1="1207.30" y1="268.10" x2="1188.90" y2="268.10" stroke="#111" stroke-width="1.3" />
<line x1="1207.30" y1="341.00" x2="1188.90" y2="341.00" stroke="#111" stroke-width="1.3" />
<path d="M1207.3,283.4 C1202.8999999999999,285 1196.3999999999999,283 1188.8999999999999,273.5" stroke="#111" stroke-width="1.3" fill="none" stroke-linejoin="round" stroke-linecap="round" />
<path d="M1207.3,325.8 C1202.8999999999999,324.2 1196.3999999999999,326.2 1188.8999999999999,335.7" stroke="#111" stroke-width="1.3" fill="none" stroke-linejoin="round" stroke-linecap="round" />
<path d="M1208.3999999999999,297.2 C1204.6,299 1202.1,302.8 1198.1,302.8 L1188.8999999999999,302.8" stroke="#111" stroke-width="1.3" fill="none" stroke-linejoin="round" stroke-linecap="round" />
<path d="M1208.3999999999999,312 C1204.6,310.2 1202.1,306.4 1198.1,306.4 L1188.8999999999999,306.4" stroke="#111" stroke-width="1.3" fill="none" stroke-linejoin="round" stroke-linecap="round" />
<line x1="1203.60" y1="284.50" x2="1203.60" y2="300.00" stroke="#111" stroke-width="1.0" />
<line x1="1203.60" y1="309.00" x2="1203.60" y2="325.00" stroke="#111" stroke-width="1.0" />
<line x1="1199.30" y1="284.50" x2="1199.30" y2="300.00" stroke="#111" stroke-width="1.0" />
<line x1="1199.30" y1="309.00" x2="1199.30" y2="325.00" stroke="#111" stroke-width="1.0" />
<line x1="1192.00" y1="284.50" x2="1192.00" y2="300.00" stroke="#111" stroke-width="1.0" />
<line x1="1192.00" y1="309.00" x2="1192.00" y2="325.00" stroke="#111" stroke-width="1.0" />
<line x1="1206.10" y1="268.10" x2="1206.10" y2="283.40" stroke="#111" stroke-width="1.0" />
<line x1="1206.10" y1="325.80" x2="1206.10" y2="341.00" stroke="#111" stroke-width="1.0" />
<rect x="1063.30" y="216.50" width="128.00" height="176.00" rx="64" stroke="#111" stroke-width="1.8" fill="#fff"/>
<rect x="1065.50" y="218.70" width="123.60" height="171.60" rx="61.8" stroke="#111" stroke-width="1.0" fill="none"/>
<rect x="1068.60" y="221.80" width="117.40" height="165.40" rx="58.7" stroke="#111" stroke-width="1.1" fill="none"/>
<rect x="1081.30" y="236.50" width="92.00" height="136.00" rx="46" stroke="#111" stroke-width="1.4" fill="none"/>
<rect x="1099.70" y="250.30" width="55.20" height="94.20" rx="27.6" stroke="#111" stroke-width="2.8" fill="none"/>
<path d="M1109.78,224.61 L1110.72,225.44 L1111.50,226.42 L1112.10,227.53 L1112.50,228.72 L1112.69,229.96 L1112.65,231.21 L1112.40,232.44 L1111.94,233.61 L1111.29,234.68 L1110.46,235.62 L1109.48,236.40 L1108.37,237.00 L1107.18,237.40 L1105.94,237.59 L1104.69,237.55 L1103.46,237.30 L1102.29,236.84 L1101.22,236.19 L1100.28,235.36 L1099.50,234.38 L1098.90,233.27 L1098.50,232.08 L1098.31,230.84 L1098.35,229.59" stroke="#111" stroke-width="1.4" fill="none"/>
<path d="M1117.96,231.38 L1117.82,232.50 L1117.58,233.60 L1117.25,234.67 L1116.81,235.71 L1116.29,236.71 L1115.68,237.66 L1114.98,238.54 L1114.21,239.36 L1113.37,240.11 L1112.46,240.78 L1111.50,241.37 L1110.49,241.86 L1109.43,242.26 L1108.35,242.57 L1107.24,242.78 L1106.12,242.88 L1104.99,242.89 L1103.87,242.79 L1102.76,242.60 L1101.68,242.30 L1100.62,241.91 L1099.60,241.42 L1098.63,240.85 L1097.72,240.18" stroke="#111" stroke-width="1.3" fill="none"/>
<path d="M1098.35,229.59 C1098.80,225.61 1110.64,222.16 1116.14,219.77" stroke="#111" stroke-width="1.4" fill="none"/>
<path d="M1109.78,224.61 C1106.57,222.23 1095.97,228.55 1090.47,230.94" stroke="#111" stroke-width="1.4" fill="none"/>
<circle cx="1105.50" cy="230.40" r="4.60" stroke="#111" stroke-width="1.3" fill="#fff"/>
<circle cx="1105.50" cy="230.40" r="2.20" stroke="#111" stroke-width="1.2" fill="none"/>
<path d="M1154.02,229.32 L1154.10,230.57 L1153.96,231.82 L1153.61,233.02 L1153.05,234.15 L1152.30,235.16 L1151.40,236.02 L1150.35,236.72 L1149.20,237.22 L1147.98,237.52 L1146.73,237.60 L1145.48,237.46 L1144.28,237.11 L1143.15,236.55 L1142.14,235.80 L1141.28,234.90 L1140.58,233.85 L1140.08,232.70 L1139.78,231.48 L1139.70,230.23 L1139.84,228.98 L1140.19,227.78 L1140.75,226.65 L1141.50,225.64 L1142.40,224.78" stroke="#111" stroke-width="1.4" fill="none"/>
<path d="M1155.04,239.89 L1154.15,240.58 L1153.21,241.19 L1152.21,241.72 L1151.17,242.15 L1150.09,242.49 L1148.99,242.72 L1147.87,242.86 L1146.75,242.90 L1145.62,242.83 L1144.51,242.67 L1143.41,242.40 L1142.35,242.04 L1141.32,241.58 L1140.33,241.04 L1139.40,240.40 L1138.53,239.68 L1137.73,238.89 L1137.00,238.03 L1136.35,237.11 L1135.79,236.13 L1135.32,235.11 L1134.94,234.05 L1134.66,232.96 L1134.48,231.84" stroke="#111" stroke-width="1.3" fill="none"/>
<path d="M1142.40,224.78 C1145.53,222.28 1156.35,228.19 1161.94,230.38" stroke="#111" stroke-width="1.4" fill="none"/>
<path d="M1154.02,229.32 C1153.42,225.36 1141.45,222.36 1135.87,220.18" stroke="#111" stroke-width="1.4" fill="none"/>
<circle cx="1146.90" cy="230.40" r="4.60" stroke="#111" stroke-width="1.3" fill="#fff"/>
<circle cx="1146.90" cy="230.40" r="2.20" stroke="#111" stroke-width="1.2" fill="none"/>
<path d="M1076.50,251.44 L1077.76,251.41 L1079.00,251.60 L1080.19,252.00 L1081.29,252.61 L1082.27,253.39 L1083.10,254.33 L1083.75,255.40 L1084.21,256.57 L1084.46,257.80 L1084.49,259.06 L1084.30,260.30 L1083.90,261.49 L1083.29,262.59 L1082.51,263.57 L1081.57,264.40 L1080.50,265.05 L1079.33,265.51 L1078.10,265.76 L1076.84,265.79 L1075.60,265.60 L1074.41,265.20 L1073.31,264.59 L1072.33,263.81 L1071.50,262.87" stroke="#111" stroke-width="1.4" fill="none"/>
<path d="M1087.10,250.84 L1087.76,251.76 L1088.34,252.73 L1088.82,253.75 L1089.21,254.80 L1089.50,255.89 L1089.70,257.00 L1089.79,258.12 L1089.78,259.25 L1089.67,260.37 L1089.46,261.48 L1089.15,262.56 L1088.75,263.62 L1088.25,264.63 L1087.66,265.59 L1086.99,266.49 L1086.24,267.33 L1085.42,268.10 L1084.53,268.80 L1083.58,269.41 L1082.59,269.93 L1081.54,270.36 L1080.47,270.69 L1079.37,270.93 L1078.25,271.06" stroke="#111" stroke-width="1.3" fill="none"/>
<path d="M1071.50,262.87 C1069.13,259.65 1075.47,249.07 1077.88,243.57" stroke="#111" stroke-width="1.4" fill="none"/>
<path d="M1076.50,251.44 C1072.53,251.89 1069.05,263.72 1066.65,269.22" stroke="#111" stroke-width="1.4" fill="none"/>
<circle cx="1077.30" cy="258.60" r="4.60" stroke="#111" stroke-width="1.3" fill="#fff"/>
<circle cx="1077.30" cy="258.60" r="2.20" stroke="#111" stroke-width="1.2" fill="none"/>
<path d="M1181.74,262.81 L1180.92,263.76 L1179.95,264.55 L1178.86,265.16 L1177.67,265.58 L1176.43,265.78 L1175.18,265.76 L1173.95,265.53 L1172.77,265.09 L1171.69,264.44 L1170.74,263.62 L1169.95,262.65 L1169.34,261.56 L1168.92,260.37 L1168.72,259.13 L1168.74,257.88 L1168.97,256.65 L1169.41,255.47 L1170.06,254.39 L1170.88,253.44 L1171.85,252.65 L1172.94,252.04 L1174.13,251.62 L1175.37,251.42 L1176.62,251.44" stroke="#111" stroke-width="1.4" fill="none"/>
<path d="M1175.08,271.07 L1173.96,270.95 L1172.86,270.72 L1171.78,270.40 L1170.73,269.98 L1169.73,269.47 L1168.78,268.87 L1167.88,268.19 L1167.05,267.43 L1166.29,266.59 L1165.61,265.70 L1165.01,264.74 L1164.50,263.74 L1164.09,262.69 L1163.77,261.61 L1163.55,260.50 L1163.42,259.38 L1163.40,258.26 L1163.49,257.13 L1163.67,256.02 L1163.95,254.93 L1164.33,253.87 L1164.80,252.85 L1165.37,251.87 L1166.02,250.95" stroke="#111" stroke-width="1.3" fill="none"/>
<path d="M1176.62,251.44 C1180.60,251.84 1184.20,263.63 1186.67,269.10" stroke="#111" stroke-width="1.4" fill="none"/>
<path d="M1181.74,262.81 C1184.08,259.56 1177.63,249.05 1175.16,243.58" stroke="#111" stroke-width="1.4" fill="none"/>
<circle cx="1175.90" cy="258.60" r="4.60" stroke="#111" stroke-width="1.3" fill="#fff"/>
<circle cx="1175.90" cy="258.60" r="2.20" stroke="#111" stroke-width="1.2" fill="none"/>
<path d="M1071.41,346.02 L1072.24,345.08 L1073.22,344.30 L1074.33,343.70 L1075.52,343.30 L1076.76,343.11 L1078.01,343.15 L1079.24,343.40 L1080.41,343.86 L1081.48,344.51 L1082.42,345.34 L1083.20,346.32 L1083.80,347.43 L1084.20,348.62 L1084.39,349.86 L1084.35,351.11 L1084.10,352.34 L1083.64,353.51 L1082.99,354.58 L1082.16,355.52 L1081.18,356.30 L1080.07,356.90 L1078.88,357.30 L1077.64,357.49 L1076.39,357.45" stroke="#111" stroke-width="1.4" fill="none"/>
<path d="M1078.18,337.84 L1079.30,337.98 L1080.40,338.22 L1081.47,338.55 L1082.51,338.99 L1083.51,339.51 L1084.46,340.12 L1085.34,340.82 L1086.16,341.59 L1086.91,342.43 L1087.58,343.34 L1088.17,344.30 L1088.66,345.31 L1089.06,346.37 L1089.37,347.45 L1089.58,348.56 L1089.68,349.68 L1089.69,350.81 L1089.59,351.93 L1089.40,353.04 L1089.10,354.12 L1088.71,355.18 L1088.22,356.20 L1087.65,357.17 L1086.98,358.08" stroke="#111" stroke-width="1.3" fill="none"/>
<path d="M1076.39,357.45 C1072.41,357.00 1068.96,345.16 1066.57,339.66" stroke="#111" stroke-width="1.4" fill="none"/>
<path d="M1071.41,346.02 C1069.03,349.23 1075.35,359.83 1077.74,365.33" stroke="#111" stroke-width="1.4" fill="none"/>
<circle cx="1077.20" cy="350.30" r="4.60" stroke="#111" stroke-width="1.3" fill="#fff"/>
<circle cx="1077.20" cy="350.30" r="2.20" stroke="#111" stroke-width="1.2" fill="none"/>
<path d="M1177.48,357.46 L1176.22,357.48 L1174.98,357.29 L1173.79,356.89 L1172.69,356.28 L1171.72,355.50 L1170.89,354.55 L1170.24,353.48 L1169.79,352.31 L1169.54,351.08 L1169.52,349.82 L1169.71,348.58 L1170.11,347.39 L1170.72,346.29 L1171.50,345.32 L1172.45,344.49 L1173.52,343.84 L1174.69,343.39 L1175.92,343.14 L1177.18,343.12 L1178.42,343.31 L1179.61,343.71 L1180.71,344.32 L1181.68,345.10 L1182.51,346.05" stroke="#111" stroke-width="1.4" fill="none"/>
<path d="M1166.88,358.03 L1166.22,357.11 L1165.65,356.14 L1165.17,355.12 L1164.78,354.06 L1164.49,352.97 L1164.30,351.86 L1164.21,350.74 L1164.22,349.61 L1164.33,348.49 L1164.54,347.39 L1164.86,346.30 L1165.26,345.25 L1165.76,344.24 L1166.35,343.28 L1167.03,342.38 L1167.78,341.54 L1168.61,340.77 L1169.50,340.08 L1170.45,339.48 L1171.45,338.96 L1172.49,338.53 L1173.57,338.20 L1174.67,337.97 L1175.79,337.83" stroke="#111" stroke-width="1.3" fill="none"/>
<path d="M1182.51,346.05 C1184.87,349.28 1178.50,359.84 1176.08,365.33" stroke="#111" stroke-width="1.4" fill="none"/>
<path d="M1177.48,357.46 C1181.45,357.03 1184.96,345.20 1187.38,339.71" stroke="#111" stroke-width="1.4" fill="none"/>
<circle cx="1176.70" cy="350.30" r="4.60" stroke="#111" stroke-width="1.3" fill="#fff"/>
<circle cx="1176.70" cy="350.30" r="2.20" stroke="#111" stroke-width="1.2" fill="none"/>
<path d="M1098.35,380.88 L1098.31,379.63 L1098.48,378.39 L1098.87,377.19 L1099.46,376.08 L1100.23,375.09 L1101.16,374.25 L1102.22,373.59 L1103.39,373.12 L1104.62,372.85 L1105.87,372.81 L1107.11,372.98 L1108.31,373.37 L1109.42,373.96 L1110.41,374.73 L1111.25,375.66 L1111.91,376.72 L1112.38,377.89 L1112.65,379.12 L1112.69,380.37 L1112.52,381.61 L1112.13,382.81 L1111.54,383.92 L1110.77,384.91 L1109.84,385.75" stroke="#111" stroke-width="1.4" fill="none"/>
<path d="M1097.62,370.29 L1098.53,369.62 L1099.49,369.04 L1100.50,368.54 L1101.56,368.14 L1102.64,367.83 L1103.75,367.62 L1104.87,367.52 L1106.00,367.51 L1107.12,367.61 L1108.23,367.80 L1109.32,368.10 L1110.37,368.49 L1111.39,368.97 L1112.36,369.55 L1113.27,370.21 L1114.12,370.95 L1114.90,371.76 L1115.61,372.64 L1116.23,373.58 L1116.76,374.57 L1117.20,375.61 L1117.55,376.68 L1117.80,377.78 L1117.95,378.90" stroke="#111" stroke-width="1.3" fill="none"/>
<path d="M1109.84,385.75 C1106.65,388.16 1095.99,381.95 1090.46,379.61" stroke="#111" stroke-width="1.4" fill="none"/>
<path d="M1098.35,380.88 C1098.85,384.85 1110.72,388.18 1116.25,390.52" stroke="#111" stroke-width="1.4" fill="none"/>
<circle cx="1105.50" cy="380.00" r="4.60" stroke="#111" stroke-width="1.3" fill="#fff"/>
<circle cx="1105.50" cy="380.00" r="2.20" stroke="#111" stroke-width="1.2" fill="none"/>
<path d="M1142.35,385.58 L1141.45,384.71 L1140.72,383.69 L1140.17,382.56 L1139.83,381.35 L1139.70,380.11 L1139.79,378.85 L1140.10,377.64 L1140.61,376.49 L1141.32,375.45 L1142.19,374.55 L1143.21,373.82 L1144.34,373.27 L1145.55,372.93 L1146.79,372.80 L1148.05,372.89 L1149.26,373.20 L1150.41,373.71 L1151.45,374.42 L1152.35,375.29 L1153.08,376.31 L1153.63,377.44 L1153.97,378.65 L1154.10,379.89 L1154.01,381.15" stroke="#111" stroke-width="1.4" fill="none"/>
<path d="M1134.50,378.44 L1134.69,377.33 L1134.98,376.24 L1135.37,375.18 L1135.85,374.16 L1136.42,373.19 L1137.07,372.28 L1137.81,371.42 L1138.62,370.64 L1139.49,369.93 L1140.43,369.30 L1141.42,368.77 L1142.45,368.32 L1143.52,367.96 L1144.62,367.71 L1145.74,367.55 L1146.86,367.50 L1147.99,367.55 L1149.11,367.70 L1150.20,367.94 L1151.28,368.29 L1152.31,368.73 L1153.31,369.27 L1154.25,369.89 L1155.13,370.59" stroke="#111" stroke-width="1.3" fill="none"/>
<path d="M1154.01,381.15 C1153.37,385.10 1141.38,387.99 1135.77,390.12" stroke="#111" stroke-width="1.4" fill="none"/>
<path d="M1142.35,385.58 C1145.45,388.11 1156.33,382.29 1161.94,380.16" stroke="#111" stroke-width="1.4" fill="none"/>
<circle cx="1146.90" cy="380.00" r="4.60" stroke="#111" stroke-width="1.3" fill="#fff"/>
<circle cx="1146.90" cy="380.00" r="2.20" stroke="#111" stroke-width="1.2" fill="none"/>
<line x1="1075.00" y1="295.00" x2="1075.00" y2="314.00" stroke="#111" stroke-width="1.0" />
<line x1="1179.00" y1="295.00" x2="1179.00" y2="314.00" stroke="#111" stroke-width="1.0" />
<circle cx="1096.80" cy="358.30" r="12.50" stroke="#111" stroke-width="2.2" fill="#fff"/>
<circle cx="1096.80" cy="358.30" r="8.50" stroke="#111" stroke-width="1.1" fill="none"/>
<circle cx="1096.8" cy="358.3" r="6" stroke="#111" stroke-width="1" fill="none" stroke-dasharray="5,2"/>
<path d="M1060.5,374.3 L1081.6,374.3 L1082.3,411.3 L1051.8,411.3 Z" stroke="#111" stroke-width="1.5" fill="#fff" stroke-linejoin="round" stroke-linecap="round" />
<line x1="1051.80" y1="398.20" x2="1082.30" y2="398.20" stroke="#111" stroke-width="1.1" />
<line x1="1053.00" y1="401.00" x2="1082.30" y2="401.00" stroke="#111" stroke-width="1.0" />
<line x1="1057.00" y1="401.00" x2="1057.00" y2="411.30" stroke="#111" stroke-width="1.1" />
<line x1="1061.00" y1="401.00" x2="1061.00" y2="411.30" stroke="#111" stroke-width="1.1" />
<line x1="1065.00" y1="401.00" x2="1065.00" y2="411.30" stroke="#111" stroke-width="1.1" />
<line x1="1069.00" y1="401.00" x2="1069.00" y2="411.30" stroke="#111" stroke-width="1.1" />
<line x1="1073.00" y1="401.00" x2="1073.00" y2="411.30" stroke="#111" stroke-width="1.1" />
<line x1="1077.00" y1="401.00" x2="1077.00" y2="411.30" stroke="#111" stroke-width="1.1" />
<line x1="1064.00" y1="374.30" x2="1060.00" y2="398.20" stroke="#111" stroke-width="1.0" />
<rect x="1119.50" y="389.50" width="15.50" height="3.50" rx="0" stroke="#111" stroke-width="1.2" fill="#fff"/>
<path d="M1171.6,374.3 L1194,374.3 L1202.1,411.3 L1171.6,411.3 Z" stroke="#111" stroke-width="1.5" fill="#fff" stroke-linejoin="round" stroke-linecap="round" />
<line x1="1171.60" y1="398.20" x2="1199.50" y2="398.20" stroke="#111" stroke-width="1.1" />
<line x1="1171.60" y1="401.00" x2="1200.00" y2="401.00" stroke="#111" stroke-width="1.0" />
<line x1="1175.00" y1="401.00" x2="1175.00" y2="411.30" stroke="#111" stroke-width="1.1" />
<line x1="1179.00" y1="401.00" x2="1179.00" y2="411.30" stroke="#111" stroke-width="1.1" />
<line x1="1183.00" y1="401.00" x2="1183.00" y2="411.30" stroke="#111" stroke-width="1.1" />
<line x1="1187.00" y1="401.00" x2="1187.00" y2="411.30" stroke="#111" stroke-width="1.1" />
<line x1="1191.00" y1="401.00" x2="1191.00" y2="411.30" stroke="#111" stroke-width="1.1" />
<line x1="1195.00" y1="401.00" x2="1195.00" y2="411.30" stroke="#111" stroke-width="1.1" />
<line x1="1190.00" y1="374.30" x2="1194.00" y2="398.20" stroke="#111" stroke-width="1.0" />
<path d="M1060.5,374.3 L1065.7,358 M1194,374.3 L1188.3,358" stroke="#111" stroke-width="1.3" fill="none" stroke-linejoin="round" stroke-linecap="round" />
<line x1="1028.00" y1="304.60" x2="1236.00" y2="304.60" stroke="#555" stroke-width="1.0" />
<line x1="1127.00" y1="184.80" x2="1127.00" y2="402.00" stroke="#555" stroke-width="1.0" />
<line x1="1040.80" y1="149.00" x2="1040.80" y2="490.00" stroke="#555" stroke-width="1.0" />
<line x1="1211.60" y1="149.00" x2="1211.60" y2="206.00" stroke="#555" stroke-width="1.0" />
<line x1="1040.80" y1="150.60" x2="1106.00" y2="150.60" stroke="#2a2a2a" stroke-width="1.0" />
<line x1="1145.00" y1="150.60" x2="1211.60" y2="150.60" stroke="#2a2a2a" stroke-width="1.0" />
<polygon points="1040.8,150.6 1053.8,148.2 1053.8,153.0" fill="#111"/>
<polygon points="1211.6,150.6 1198.6,148.2 1198.6,153.0" fill="#111"/>
<text x="1116.6" y="155.7" font-size="21.5" text-anchor="start" fill="#111"><tspan>b</tspan><tspan font-size="16" dy="6">8</tspan></text>
<line x1="1167.00" y1="162.20" x2="1296.00" y2="162.20" stroke="#555" stroke-width="1.0" />
<line x1="1127.00" y1="217.30" x2="1279.00" y2="217.30" stroke="#555" stroke-width="1.0" />
<line x1="1189.00" y1="410.50" x2="1296.00" y2="410.50" stroke="#555" stroke-width="1.0" />
<line x1="1295.60" y1="162.20" x2="1295.60" y2="262.50" stroke="#2a2a2a" stroke-width="1.0" />
<line x1="1295.60" y1="299.50" x2="1295.60" y2="410.50" stroke="#2a2a2a" stroke-width="1.0" />
<polygon points="1295.6,162.2 1293.1999999999998,175.2 1298.0,175.2" fill="#111"/>
<polygon points="1295.6,410.5 1293.1999999999998,397.5 1298.0,397.5" fill="#111"/>
<text x="1288.8" y="291.3" font-size="21.5" text-anchor="start" fill="#111"><tspan>h</tspan><tspan font-size="16" dy="6">5</tspan></text>
<line x1="1279.00" y1="217.30" x2="1279.00" y2="301.50" stroke="#2a2a2a" stroke-width="1.0" />
<line x1="1279.00" y1="330.50" x2="1279.00" y2="410.50" stroke="#2a2a2a" stroke-width="1.0" />
<polygon points="1279,217.3 1276.6,230.3 1281.4,230.3" fill="#111"/>
<polygon points="1279,410.5 1276.6,397.5 1281.4,397.5" fill="#111"/>
<text x="1270" y="321.9" font-size="21.5" text-anchor="start" fill="#111"><tspan>h</tspan><tspan font-size="16" dy="6">4</tspan></text>
<line x1="1262.20" y1="304.60" x2="1262.20" y2="343.30" stroke="#2a2a2a" stroke-width="1.0" />
<line x1="1262.20" y1="379.50" x2="1262.20" y2="410.50" stroke="#2a2a2a" stroke-width="1.0" />
<polygon points="1262.2,304.6 1259.8,317.6 1264.6000000000001,317.6" fill="#111"/>
<polygon points="1262.2,410.5 1259.8,397.5 1264.6000000000001,397.5" fill="#111"/>
<text x="1254.8" y="369.8" font-size="21.5" text-anchor="start" fill="#111"><tspan>h</tspan><tspan font-size="16" dy="6">3</tspan></text>
<line x1="1008.00" y1="305.00" x2="1028.00" y2="305.00" stroke="#111" stroke-width="2.2" />
<polygon points="996.2,305 1012.7,301.1 1012.7,308.9" fill="#111"/>
<line x1="1236.00" y1="305.00" x2="1262.40" y2="305.00" stroke="#111" stroke-width="2.2" />
<polygon points="1224,305 1240.5,301.1 1240.5,308.9" fill="#111"/>
<text x="995.8" y="277.1" font-size="21.5" text-anchor="start" fill="#111"><tspan>DN</tspan></text>
<line x1="1026.60" y1="272.90" x2="1042.20" y2="280.80" stroke="#111" stroke-width="1.0" />
<text x="1231.7" y="277.1" font-size="21.5" text-anchor="start" fill="#111"><tspan>DN</tspan></text>
<line x1="1228.00" y1="272.90" x2="1212.40" y2="280.80" stroke="#111" stroke-width="1.0" />
<line x1="1051.80" y1="411.00" x2="1051.80" y2="468.00" stroke="#555" stroke-width="1.0" />
<line x1="1068.90" y1="411.00" x2="1068.90" y2="448.00" stroke="#555" stroke-width="1.0" />
<line x1="1061.20" y1="411.00" x2="1061.20" y2="424.00" stroke="#555" stroke-width="1.0" />
<line x1="1073.40" y1="411.00" x2="1073.40" y2="424.00" stroke="#555" stroke-width="1.0" />
<line x1="1184.50" y1="411.00" x2="1184.50" y2="448.00" stroke="#555" stroke-width="1.0" />
<line x1="1202.50" y1="411.00" x2="1202.50" y2="468.00" stroke="#555" stroke-width="1.0" />
<line x1="1188.20" y1="411.00" x2="1188.20" y2="424.00" stroke="#555" stroke-width="1.0" />
<line x1="1048.00" y1="421.20" x2="1061.20" y2="421.20" stroke="#111" stroke-width="1.0" />
<polygon points="1060.5,421.2 1048.0,418.8 1048.0,423.59999999999997" fill="#111"/>
<line x1="1073.40" y1="421.20" x2="1103.50" y2="421.20" stroke="#111" stroke-width="1.0" />
<polygon points="1073.8,421.2 1086.8,418.8 1086.8,423.59999999999997" fill="#111"/>
<text x="1107.6" y="428" font-size="21.5" text-anchor="start" fill="#111"><tspan>b</tspan><tspan font-size="16" dy="6">6</tspan></text>
<line x1="1164.50" y1="421.20" x2="1184.50" y2="421.20" stroke="#111" stroke-width="1.0" />
<polygon points="1183.8,421.2 1170.8,418.8 1170.8,423.59999999999997" fill="#111"/>
<line x1="1188.20" y1="421.20" x2="1202.50" y2="421.20" stroke="#111" stroke-width="1.0" />
<polygon points="1188.8,421.2 1202.3,418.8 1202.3,423.59999999999997" fill="#111"/>
<text x="1142.7" y="424.9" font-size="21.5" text-anchor="start" fill="#111"><tspan>b</tspan><tspan font-size="16" dy="6">9</tspan></text>
<line x1="1068.90" y1="445.50" x2="1127.40" y2="445.50" stroke="#2a2a2a" stroke-width="1.0" />
<line x1="1160.30" y1="445.50" x2="1184.50" y2="445.50" stroke="#2a2a2a" stroke-width="1.0" />
<polygon points="1068.9,445.5 1081.9,443.1 1081.9,447.9" fill="#111"/>
<polygon points="1184.5,445.5 1171.5,443.1 1171.5,447.9" fill="#111"/>
<text x="1135" y="451" font-size="21.5" text-anchor="start" fill="#111"><tspan>b</tspan><tspan font-size="16" dy="6">5</tspan></text>
<line x1="1051.80" y1="465.30" x2="1103.70" y2="465.30" stroke="#2a2a2a" stroke-width="1.0" />
<line x1="1135.30" y1="465.30" x2="1202.50" y2="465.30" stroke="#2a2a2a" stroke-width="1.0" />
<polygon points="1051.8,465.3 1064.8,462.90000000000003 1064.8,467.7" fill="#111"/>
<polygon points="1202.5,465.3 1189.5,462.90000000000003 1189.5,467.7" fill="#111"/>
<text x="1111.9" y="472.4" font-size="21.5" text-anchor="start" fill="#111"><tspan>b</tspan><tspan font-size="16" dy="6">4</tspan></text>
<line x1="1040.80" y1="487.00" x2="1127.40" y2="487.00" stroke="#2a2a2a" stroke-width="1.0" />
<line x1="1159.60" y1="487.00" x2="1213.30" y2="487.00" stroke="#2a2a2a" stroke-width="1.0" />
<polygon points="1040.8,487 1053.8,484.6 1053.8,489.4" fill="#111"/>
<polygon points="1213.3,487 1200.3,484.6 1200.3,489.4" fill="#111"/>
<text x="1135" y="493.1" font-size="21.5" text-anchor="start" fill="#111"><tspan>b</tspan><tspan font-size="16" dy="6">3</tspan></text>
<line x1="1213.30" y1="354.00" x2="1213.30" y2="490.00" stroke="#555" stroke-width="1.0" />
</svg></body></html>
